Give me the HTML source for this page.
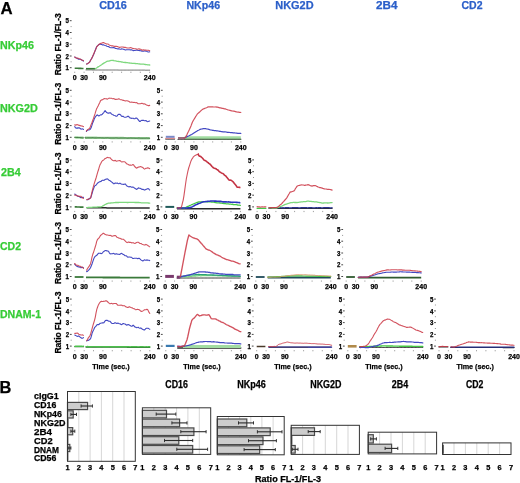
<!DOCTYPE html>
<html><head><meta charset="utf-8"><style>
html,body{margin:0;padding:0;background:#fff;}
body{width:520px;height:483px;overflow:hidden;}
svg{display:block;font-family:"Liberation Sans", sans-serif;will-change:transform;}
</style></head><body>
<svg width="520" height="483" viewBox="0 0 520 483">
<rect width="520" height="483" fill="#fff"/>
<text x="0.5" y="13.7" font-size="16.80" font-weight="bold" fill="#000" text-anchor="start" stroke="#000" stroke-width="0.25">A</text>
<text x="99.2" y="9.0" font-size="10.50" font-weight="bold" fill="#2b5fc9" text-anchor="start" textLength="27.7" lengthAdjust="spacingAndGlyphs" stroke="#2b5fc9" stroke-width="0.25">CD16</text>
<text x="186.4" y="9.0" font-size="10.50" font-weight="bold" fill="#2b5fc9" text-anchor="start" textLength="33.7" lengthAdjust="spacingAndGlyphs" stroke="#2b5fc9" stroke-width="0.25">NKp46</text>
<text x="275.3" y="9.0" font-size="10.50" font-weight="bold" fill="#2b5fc9" text-anchor="start" textLength="38.3" lengthAdjust="spacingAndGlyphs" stroke="#2b5fc9" stroke-width="0.25">NKG2D</text>
<text x="376.0" y="9.0" font-size="10.50" font-weight="bold" fill="#2b5fc9" text-anchor="start" textLength="21.5" lengthAdjust="spacingAndGlyphs" stroke="#2b5fc9" stroke-width="0.25">2B4</text>
<text x="461.5" y="9.0" font-size="10.50" font-weight="bold" fill="#2b5fc9" text-anchor="start" textLength="21.0" lengthAdjust="spacingAndGlyphs" stroke="#2b5fc9" stroke-width="0.25">CD2</text>
<text x="0.0" y="49.2" font-size="10.20" font-weight="bold" fill="#36cc36" text-anchor="start" textLength="33.9" lengthAdjust="spacingAndGlyphs" stroke="#36cc36" stroke-width="0.25">NKp46</text>
<text x="0.0" y="112.0" font-size="10.20" font-weight="bold" fill="#36cc36" text-anchor="start" textLength="37.8" lengthAdjust="spacingAndGlyphs" stroke="#36cc36" stroke-width="0.25">NKG2D</text>
<text x="1.0" y="176.2" font-size="10.20" font-weight="bold" fill="#36cc36" text-anchor="start" textLength="19.7" lengthAdjust="spacingAndGlyphs" stroke="#36cc36" stroke-width="0.25">2B4</text>
<text x="0.0" y="250.0" font-size="10.20" font-weight="bold" fill="#36cc36" text-anchor="start" textLength="21.0" lengthAdjust="spacingAndGlyphs" stroke="#36cc36" stroke-width="0.25">CD2</text>
<text x="0.0" y="318.0" font-size="10.20" font-weight="bold" fill="#36cc36" text-anchor="start" textLength="41.0" lengthAdjust="spacingAndGlyphs" stroke="#36cc36" stroke-width="0.25">DNAM-1</text>
<text x="69.0" y="70.3" font-size="6.60" font-weight="bold" fill="#000" text-anchor="end" textLength="3.4" lengthAdjust="spacingAndGlyphs" stroke="#000" stroke-width="0.25">1</text>
<line x1="69.8" y1="67.7" x2="71.6" y2="67.7" stroke="#333" stroke-width="0.9"/>
<line x1="70.6" y1="61.8" x2="71.6" y2="61.8" stroke="#777" stroke-width="0.8"/>
<text x="69.0" y="58.6" font-size="6.60" font-weight="bold" fill="#000" text-anchor="end" textLength="3.4" lengthAdjust="spacingAndGlyphs" stroke="#000" stroke-width="0.25">2</text>
<line x1="69.8" y1="56.0" x2="71.6" y2="56.0" stroke="#333" stroke-width="0.9"/>
<line x1="70.6" y1="50.1" x2="71.6" y2="50.1" stroke="#777" stroke-width="0.8"/>
<text x="69.0" y="46.8" font-size="6.60" font-weight="bold" fill="#000" text-anchor="end" textLength="3.4" lengthAdjust="spacingAndGlyphs" stroke="#000" stroke-width="0.25">3</text>
<line x1="69.8" y1="44.2" x2="71.6" y2="44.2" stroke="#333" stroke-width="0.9"/>
<line x1="70.6" y1="38.3" x2="71.6" y2="38.3" stroke="#777" stroke-width="0.8"/>
<text x="69.0" y="35.1" font-size="6.60" font-weight="bold" fill="#000" text-anchor="end" textLength="3.4" lengthAdjust="spacingAndGlyphs" stroke="#000" stroke-width="0.25">4</text>
<line x1="69.8" y1="32.5" x2="71.6" y2="32.5" stroke="#333" stroke-width="0.9"/>
<line x1="70.6" y1="26.6" x2="71.6" y2="26.6" stroke="#777" stroke-width="0.8"/>
<text x="69.0" y="23.3" font-size="6.60" font-weight="bold" fill="#000" text-anchor="end" textLength="3.4" lengthAdjust="spacingAndGlyphs" stroke="#000" stroke-width="0.25">5</text>
<line x1="69.8" y1="20.7" x2="71.6" y2="20.7" stroke="#333" stroke-width="0.9"/>
<line x1="74.7" y1="71.7" x2="74.7" y2="72.9" stroke="#888" stroke-width="0.8"/>
<line x1="84.1" y1="71.7" x2="84.1" y2="72.9" stroke="#888" stroke-width="0.8"/>
<line x1="93.5" y1="71.7" x2="93.5" y2="72.9" stroke="#888" stroke-width="0.8"/>
<line x1="102.8" y1="71.7" x2="102.8" y2="72.9" stroke="#888" stroke-width="0.8"/>
<line x1="112.2" y1="71.7" x2="112.2" y2="72.9" stroke="#888" stroke-width="0.8"/>
<line x1="121.6" y1="71.7" x2="121.6" y2="72.9" stroke="#888" stroke-width="0.8"/>
<line x1="130.9" y1="71.7" x2="130.9" y2="72.9" stroke="#888" stroke-width="0.8"/>
<line x1="140.3" y1="71.7" x2="140.3" y2="72.9" stroke="#888" stroke-width="0.8"/>
<line x1="149.7" y1="71.7" x2="149.7" y2="72.9" stroke="#888" stroke-width="0.8"/>
<text x="74.7" y="80.1" font-size="7.00" font-weight="bold" fill="#000" text-anchor="middle" stroke="#000" stroke-width="0.25">0</text>
<text x="84.1" y="80.1" font-size="7.00" font-weight="bold" fill="#000" text-anchor="middle" stroke="#000" stroke-width="0.25">30</text>
<text x="102.8" y="80.1" font-size="7.00" font-weight="bold" fill="#000" text-anchor="middle" stroke="#000" stroke-width="0.25">90</text>
<text x="149.7" y="80.1" font-size="7.00" font-weight="bold" fill="#000" text-anchor="middle" stroke="#000" stroke-width="0.25">240</text>
<text transform="translate(60.7,44.2) rotate(-90)" x="0" y="0" font-size="8.6" font-weight="bold" stroke="#000" stroke-width="0.25" text-anchor="middle" textLength="62" lengthAdjust="spacingAndGlyphs">Ratio FL-1/FL-3</text>
<path d="M86.0,69.9L86.7,69.9L87.5,69.9L88.3,69.9L89.1,69.9L89.9,69.9L90.6,69.9L91.4,69.9L92.2,70.0L93.0,70.0L93.8,70.0L94.5,70.0L95.3,70.0L96.1,70.0L96.9,70.0L97.7,70.0L98.5,70.0L99.2,70.0L100.0,70.0L100.8,70.0L101.6,70.0L102.4,70.0L103.1,70.0L103.9,70.0L104.7,70.0L105.5,70.0L106.3,70.0L107.0,70.0L107.8,70.0L108.6,70.0L109.4,70.0L110.2,70.0L111.0,70.0L111.7,70.0L112.5,70.0L113.3,70.0L114.1,70.0L114.9,70.0L115.6,70.0L116.4,70.0L117.2,70.0L118.0,70.0L118.8,70.1L119.5,70.1L120.3,70.1L121.1,70.1L121.9,70.1L122.7,70.1L123.5,70.1L124.2,70.1L125.0,70.1L125.8,70.1L126.6,70.1L127.4,70.1L128.1,70.1L128.9,70.1L129.7,70.1L130.5,70.1L131.3,70.1L132.0,70.1L132.8,70.1L133.6,70.1L134.4,70.1L135.2,70.1L135.9,70.1L136.7,70.1L137.5,70.1L138.3,70.1L139.1,70.1L139.9,70.1L140.6,70.1L141.4,70.1L142.2,70.1L143.0,70.1L143.8,70.1L144.5,70.1L145.3,70.2L146.1,70.2L146.9,70.2L147.7,70.2L148.4,70.2L149.2,70.2L149.7,70.2" fill="none" stroke="#666666" stroke-width="1.00" stroke-linejoin="round" stroke-linecap="round"/>
<path d="M74.7,68.3L75.5,68.3L76.3,68.3L77.0,68.3L77.8,68.3L78.6,68.4L79.4,68.4L80.2,68.4L81.0,68.4L81.7,68.5L82.5,68.5L83.3,68.5L83.5,68.5" fill="none" stroke="#3a7a3a" stroke-width="1.60" stroke-linejoin="round" stroke-linecap="butt"/>
<path d="M86.0,68.7L86.7,68.7L87.5,68.7L88.3,68.7L89.1,68.7L89.9,68.7L90.6,68.7L91.4,68.7L92.2,68.7L93.0,68.7L93.8,68.7L94.5,68.7L95.1,68.7" fill="none" stroke="#3a7a3a" stroke-width="1.60" stroke-linejoin="round" stroke-linecap="butt"/>
<path d="M95.3,68.7L96.1,68.2L96.9,67.7L97.7,67.1L98.5,66.6L99.2,66.2L100.0,65.7L100.8,65.2L101.6,64.7L102.4,64.1L103.1,63.6L103.9,63.1L104.7,62.7L105.5,62.2L106.3,61.7L107.0,61.4L107.8,61.2L108.6,61.1L109.4,61.0L110.2,60.7L111.0,60.5L111.7,60.3L112.5,60.3L113.3,60.5L114.1,60.7L114.9,60.8L115.6,60.9L116.4,61.1L117.2,61.3L118.0,61.4L118.8,61.5L119.5,61.6L120.3,61.7L121.1,61.8L121.9,62.0L122.7,62.2L123.5,62.3L124.2,62.4L125.0,62.5L125.8,62.5L126.6,62.6L127.4,62.7L128.1,62.8L128.9,62.8L129.7,63.0L130.5,63.1L131.3,63.2L132.0,63.4L132.8,63.4L133.6,63.4L134.4,63.4L135.2,63.5L135.9,63.6L136.7,63.6L137.5,63.7L138.3,63.8L139.1,63.9L139.9,64.0L140.6,64.1L141.4,64.1L142.2,64.2L143.0,64.2L143.8,64.2L144.5,64.4L145.3,64.5L146.1,64.6L146.9,64.7L147.7,64.8L148.4,64.9L149.2,64.9L149.7,65.0" fill="none" stroke="#7ed87e" stroke-width="1.30" stroke-linejoin="round" stroke-linecap="round"/>
<path d="M74.7,57.1L75.5,57.5L76.3,58.0L77.0,58.3L77.8,58.7L78.6,59.2L79.4,59.3L80.2,59.2L81.0,59.5L81.7,59.9L82.5,60.3L83.3,61.0L83.5,61.1" fill="none" stroke="#4349c2" stroke-width="1.10" stroke-linejoin="round" stroke-linecap="round"/>
<path d="M86.6,64.1L87.4,63.7L88.1,63.1L88.9,62.6L89.7,62.0L90.5,60.3L91.3,59.0L92.0,57.9L92.8,56.3L93.6,54.5L94.4,52.6L95.2,50.5L96.0,48.3L96.7,46.6L97.5,45.9L98.3,45.0L99.1,44.5L99.9,44.4L100.6,44.1L101.4,44.4L102.2,44.9L103.0,44.9L103.8,44.9L104.5,45.2L105.3,45.5L106.1,45.7L106.9,46.2L107.7,46.5L108.5,46.6L109.2,47.0L110.0,47.5L110.8,47.7L111.6,47.7L112.4,47.8L113.1,47.6L113.9,47.6L114.7,48.0L115.5,48.4L116.3,48.5L117.0,48.7L117.8,48.9L118.6,48.8L119.4,49.0L120.2,49.2L121.0,49.1L121.7,48.9L122.5,49.0L123.3,49.2L124.1,49.4L124.9,49.9L125.6,50.0L126.4,49.7L127.2,49.7L128.0,49.8L128.8,49.7L129.5,49.8L130.3,49.9L131.1,49.8L131.9,49.9L132.7,50.4L133.4,50.6L134.2,50.5L135.0,50.5L135.8,50.3L136.6,50.1L137.4,50.2L138.1,50.5L138.9,50.5L139.7,50.6L140.5,50.8L141.3,50.9L142.0,51.1L142.8,51.3L143.6,51.2L144.4,50.9L145.2,51.0L145.9,51.2L146.7,51.3L147.5,51.7L148.3,52.0L149.1,51.9L149.7,51.8" fill="none" stroke="#4349c2" stroke-width="1.10" stroke-linejoin="round" stroke-linecap="round"/>
<path d="M74.7,57.0L75.5,57.5L76.3,58.0L77.0,58.2L77.8,58.1L78.6,58.4L79.4,58.8L80.2,59.1L81.0,59.5L81.7,60.0L82.5,60.2L83.3,60.6L83.5,60.7" fill="none" stroke="#cc3a48" stroke-width="1.10" stroke-linejoin="round" stroke-linecap="round" stroke-opacity="0.88"/>
<path d="M86.6,64.1L87.4,63.7L88.1,63.4L88.9,62.8L89.7,61.9L90.5,60.5L91.3,59.3L92.0,57.8L92.8,56.0L93.6,54.2L94.4,52.2L95.2,50.4L96.0,48.8L96.7,46.9L97.5,45.9L98.3,45.1L99.1,44.3L99.9,43.7L100.6,43.4L101.4,43.3L102.2,42.9L103.0,42.6L103.8,42.6L104.5,43.1L105.3,43.4L106.1,43.9L106.9,44.0L107.7,44.0L108.5,44.3L109.2,44.9L110.0,45.3L110.8,45.6L111.6,45.9L112.4,45.8L113.1,45.9L113.9,46.2L114.7,46.4L115.5,46.3L116.3,46.4L117.0,46.5L117.8,46.6L118.6,47.1L119.4,47.4L120.2,47.2L121.0,47.0L121.7,47.0L122.5,47.0L123.3,47.1L124.1,47.4L124.9,47.4L125.6,47.4L126.4,47.7L127.2,48.0L128.0,48.0L128.8,48.0L129.5,48.0L130.3,47.6L131.1,47.7L131.9,48.1L132.7,48.4L133.4,48.5L134.2,48.8L135.0,48.8L135.8,48.8L136.6,49.1L137.4,49.2L138.1,49.0L138.9,48.9L139.7,49.1L140.5,49.3L141.3,49.6L142.0,50.1L142.8,50.1L143.6,49.9L144.4,50.0L145.2,50.1L145.9,50.1L146.7,50.2L147.5,50.3L148.3,50.2L149.1,50.5L149.7,50.8" fill="none" stroke="#cc3a48" stroke-width="1.10" stroke-linejoin="round" stroke-linecap="round" stroke-opacity="0.88"/>
<text x="69.0" y="139.9" font-size="6.60" font-weight="bold" fill="#000" text-anchor="end" textLength="3.4" lengthAdjust="spacingAndGlyphs" stroke="#000" stroke-width="0.25">1</text>
<line x1="69.8" y1="137.3" x2="71.6" y2="137.3" stroke="#333" stroke-width="0.9"/>
<line x1="70.6" y1="131.4" x2="71.6" y2="131.4" stroke="#777" stroke-width="0.8"/>
<text x="69.0" y="128.2" font-size="6.60" font-weight="bold" fill="#000" text-anchor="end" textLength="3.4" lengthAdjust="spacingAndGlyphs" stroke="#000" stroke-width="0.25">2</text>
<line x1="69.8" y1="125.6" x2="71.6" y2="125.6" stroke="#333" stroke-width="0.9"/>
<line x1="70.6" y1="119.7" x2="71.6" y2="119.7" stroke="#777" stroke-width="0.8"/>
<text x="69.0" y="116.4" font-size="6.60" font-weight="bold" fill="#000" text-anchor="end" textLength="3.4" lengthAdjust="spacingAndGlyphs" stroke="#000" stroke-width="0.25">3</text>
<line x1="69.8" y1="113.8" x2="71.6" y2="113.8" stroke="#333" stroke-width="0.9"/>
<line x1="70.6" y1="107.9" x2="71.6" y2="107.9" stroke="#777" stroke-width="0.8"/>
<text x="69.0" y="104.7" font-size="6.60" font-weight="bold" fill="#000" text-anchor="end" textLength="3.4" lengthAdjust="spacingAndGlyphs" stroke="#000" stroke-width="0.25">4</text>
<line x1="69.8" y1="102.1" x2="71.6" y2="102.1" stroke="#333" stroke-width="0.9"/>
<line x1="70.6" y1="96.2" x2="71.6" y2="96.2" stroke="#777" stroke-width="0.8"/>
<text x="69.0" y="92.9" font-size="6.60" font-weight="bold" fill="#000" text-anchor="end" textLength="3.4" lengthAdjust="spacingAndGlyphs" stroke="#000" stroke-width="0.25">5</text>
<line x1="69.8" y1="90.3" x2="71.6" y2="90.3" stroke="#333" stroke-width="0.9"/>
<line x1="74.7" y1="141.3" x2="74.7" y2="142.5" stroke="#888" stroke-width="0.8"/>
<line x1="84.1" y1="141.3" x2="84.1" y2="142.5" stroke="#888" stroke-width="0.8"/>
<line x1="93.5" y1="141.3" x2="93.5" y2="142.5" stroke="#888" stroke-width="0.8"/>
<line x1="102.8" y1="141.3" x2="102.8" y2="142.5" stroke="#888" stroke-width="0.8"/>
<line x1="112.2" y1="141.3" x2="112.2" y2="142.5" stroke="#888" stroke-width="0.8"/>
<line x1="121.6" y1="141.3" x2="121.6" y2="142.5" stroke="#888" stroke-width="0.8"/>
<line x1="130.9" y1="141.3" x2="130.9" y2="142.5" stroke="#888" stroke-width="0.8"/>
<line x1="140.3" y1="141.3" x2="140.3" y2="142.5" stroke="#888" stroke-width="0.8"/>
<line x1="149.7" y1="141.3" x2="149.7" y2="142.5" stroke="#888" stroke-width="0.8"/>
<text x="74.7" y="149.7" font-size="7.00" font-weight="bold" fill="#000" text-anchor="middle" stroke="#000" stroke-width="0.25">0</text>
<text x="84.1" y="149.7" font-size="7.00" font-weight="bold" fill="#000" text-anchor="middle" stroke="#000" stroke-width="0.25">30</text>
<text x="102.8" y="149.7" font-size="7.00" font-weight="bold" fill="#000" text-anchor="middle" stroke="#000" stroke-width="0.25">90</text>
<text x="149.7" y="149.7" font-size="7.00" font-weight="bold" fill="#000" text-anchor="middle" stroke="#000" stroke-width="0.25">240</text>
<text transform="translate(60.7,113.8) rotate(-90)" x="0" y="0" font-size="8.6" font-weight="bold" stroke="#000" stroke-width="0.25" text-anchor="middle" textLength="62" lengthAdjust="spacingAndGlyphs">Ratio FL-1/FL-3</text>
<path d="M74.7,137.4L75.5,137.4L76.3,137.5L77.0,137.5L77.8,137.5L78.6,137.6L79.4,137.6L80.2,137.6L81.0,137.7L81.7,137.7L82.5,137.7L83.3,137.8L83.5,137.8" fill="none" stroke="#9ad89a" stroke-width="2.40" stroke-linejoin="round" stroke-linecap="butt"/>
<path d="M85.0,137.8L85.8,137.8L86.6,137.8L87.4,137.8L88.1,137.8L88.9,137.8L89.7,137.8L90.5,137.8L91.3,137.8L92.0,137.8L92.8,137.8L93.6,137.8L94.4,137.8L95.2,137.8L96.0,137.8L96.7,137.8L97.5,137.9L98.3,137.9L99.1,137.9L99.9,137.9L100.6,137.9L101.4,137.9L102.2,137.9L103.0,137.9L103.8,137.9L104.5,137.9L105.3,137.9L106.1,137.9L106.9,137.9L107.7,137.9L108.5,137.9L109.2,137.9L110.0,137.9L110.8,138.0L111.6,138.0L112.4,138.0L113.1,138.0L113.9,138.0L114.7,138.0L115.5,138.0L116.3,138.0L117.0,138.0L117.8,138.0L118.6,138.0L119.4,138.0L120.2,138.0L121.0,138.0L121.7,138.0L122.5,138.0L123.3,138.0L124.1,138.1L124.9,138.1L125.6,138.1L126.4,138.1L127.2,138.1L128.0,138.1L128.8,138.1L129.5,138.1L130.3,138.1L131.1,138.1L131.9,138.1L132.7,138.1L133.4,138.1L134.2,138.1L135.0,138.1L135.8,138.1L136.6,138.1L137.4,138.1L138.1,138.2L138.9,138.2L139.7,138.2L140.5,138.2L141.3,138.2L142.0,138.2L142.8,138.2L143.6,138.2L144.4,138.2L145.2,138.2L145.9,138.2L146.7,138.2L147.5,138.2L148.3,138.2L149.1,138.2L149.7,138.2" fill="none" stroke="#9ad89a" stroke-width="2.40" stroke-linejoin="round" stroke-linecap="butt"/>
<path d="M74.7,137.4L75.5,137.5L76.3,137.5L77.0,137.5L77.8,137.5L78.6,137.5L79.4,137.5L80.2,137.6L81.0,137.7L81.7,137.7L82.5,137.8L83.3,137.8L83.5,137.8" fill="none" stroke="#3a6a3a" stroke-width="1.00" stroke-linejoin="round" stroke-linecap="round"/>
<path d="M85.0,137.7L85.8,137.8L86.6,137.9L87.4,137.8L88.1,137.8L88.9,137.8L89.7,137.8L90.5,137.8L91.3,137.8L92.0,137.8L92.8,137.7L93.6,137.8L94.4,137.9L95.2,137.9L96.0,137.9L96.7,137.9L97.5,137.8L98.3,137.8L99.1,137.8L99.9,137.8L100.6,137.8L101.4,137.9L102.2,137.9L103.0,137.9L103.8,138.0L104.5,138.0L105.3,137.9L106.1,137.9L106.9,137.9L107.7,137.8L108.5,137.9L109.2,138.0L110.0,138.0L110.8,138.0L111.6,138.0L112.4,138.0L113.1,138.0L113.9,138.0L114.7,138.0L115.5,137.9L116.3,137.9L117.0,138.0L117.8,138.0L118.6,138.1L119.4,138.1L120.2,138.0L121.0,138.0L121.7,138.0L122.5,138.0L123.3,138.0L124.1,138.0L124.9,138.0L125.6,138.0L126.4,138.1L127.2,138.2L128.0,138.1L128.8,138.1L129.5,138.1L130.3,138.0L131.1,138.0L131.9,138.1L132.7,138.1L133.4,138.1L134.2,138.1L135.0,138.2L135.8,138.2L136.6,138.2L137.4,138.2L138.1,138.1L138.9,138.0L139.7,138.1L140.5,138.2L141.3,138.2L142.0,138.2L142.8,138.2L143.6,138.2L144.4,138.2L145.2,138.2L145.9,138.2L146.7,138.1L147.5,138.2L148.3,138.2L149.1,138.2L149.7,138.3" fill="none" stroke="#3a6a3a" stroke-width="1.00" stroke-linejoin="round" stroke-linecap="round"/>
<path d="M74.7,126.6L75.5,127.8L76.3,128.3L77.0,127.9L77.8,128.1L78.6,127.9L79.4,127.8L80.2,128.5L81.0,129.2L81.7,129.0L82.5,128.9L83.3,129.4L83.5,129.4" fill="none" stroke="#4349c2" stroke-width="1.10" stroke-linejoin="round" stroke-linecap="round"/>
<path d="M86.4,131.5L87.2,130.2L88.0,129.9L88.7,130.0L89.5,129.7L90.3,129.3L91.1,127.8L91.9,125.4L92.6,123.1L93.4,121.5L94.2,119.1L95.0,117.4L95.8,116.4L96.5,115.5L97.3,114.8L98.1,115.5L98.9,116.0L99.7,115.4L100.5,114.9L101.2,114.9L102.0,114.6L102.8,113.5L103.6,112.8L104.4,111.6L105.1,110.6L105.9,111.6L106.7,112.6L107.5,112.9L108.3,113.1L109.0,113.1L109.8,112.7L110.6,112.9L111.4,113.9L112.2,114.5L113.0,114.7L113.7,115.2L114.5,115.5L115.3,115.7L116.1,116.3L116.9,116.3L117.6,115.2L118.4,114.4L119.2,114.4L120.0,114.3L120.8,115.1L121.5,116.2L122.3,116.4L123.1,116.3L123.9,116.9L124.7,117.3L125.5,117.2L126.2,117.1L127.0,116.8L127.8,116.2L128.6,116.4L129.4,117.4L130.1,118.0L130.9,118.1L131.7,118.4L132.5,118.3L133.3,118.2L134.0,118.8L134.8,118.7L135.6,118.1L136.4,118.0L137.2,118.5L137.9,119.4L138.7,120.4L139.5,121.4L140.3,121.4L141.1,120.5L141.9,120.4L142.6,120.4L143.4,120.3L144.2,120.6L145.0,120.7L145.8,120.5L146.5,121.0L147.3,121.7L148.1,121.5L148.9,121.2L149.7,121.0L149.7,121.0" fill="none" stroke="#4349c2" stroke-width="1.10" stroke-linejoin="round" stroke-linecap="round"/>
<path d="M74.7,124.9L75.5,125.1L76.3,124.9L77.0,124.6L77.8,124.7L78.6,125.2L79.4,125.4L80.2,125.6L81.0,125.9L81.7,126.0L82.5,126.1L83.3,126.6L83.5,126.6" fill="none" stroke="#cc3a48" stroke-width="1.10" stroke-linejoin="round" stroke-linecap="round" stroke-opacity="0.88"/>
<path d="M86.4,131.0L87.2,130.2L88.0,129.4L88.7,128.9L89.5,128.6L90.3,126.8L91.1,124.6L91.9,122.8L92.6,120.8L93.4,118.6L94.2,116.3L95.0,113.9L95.8,111.2L96.5,109.1L97.3,107.6L98.1,106.0L98.9,104.3L99.7,102.7L100.5,100.7L101.2,100.1L102.0,99.9L102.8,99.6L103.6,98.9L104.4,98.6L105.1,98.7L105.9,98.7L106.7,98.9L107.5,99.1L108.3,98.6L109.0,98.1L109.8,98.2L110.6,98.2L111.4,98.3L112.2,98.6L113.0,98.7L113.7,98.6L114.5,99.0L115.3,99.4L116.1,99.4L116.9,99.3L117.6,99.3L118.4,98.9L119.2,98.9L120.0,99.4L120.8,99.7L121.5,99.8L122.3,100.1L123.1,100.4L123.9,100.4L124.7,100.7L125.5,101.0L126.2,100.7L127.0,100.7L127.8,101.0L128.6,101.3L129.4,101.7L130.1,102.2L130.9,102.3L131.7,102.1L132.5,102.2L133.3,102.5L134.0,102.4L134.8,102.5L135.6,102.7L136.4,102.6L137.2,102.9L137.9,103.6L138.7,103.8L139.5,103.7L140.3,103.7L141.1,103.5L141.9,103.3L142.6,103.6L143.4,103.9L144.2,103.9L145.0,104.0L145.8,104.6L146.5,104.9L147.3,105.2L148.1,105.6L148.9,105.6L149.7,105.4L149.7,105.4" fill="none" stroke="#cc3a48" stroke-width="1.10" stroke-linejoin="round" stroke-linecap="round" stroke-opacity="0.88"/>
<text x="160.1" y="139.9" font-size="6.60" font-weight="bold" fill="#000" text-anchor="end" textLength="3.4" lengthAdjust="spacingAndGlyphs" stroke="#000" stroke-width="0.25">1</text>
<line x1="160.9" y1="137.3" x2="162.7" y2="137.3" stroke="#333" stroke-width="0.9"/>
<line x1="161.7" y1="131.4" x2="162.7" y2="131.4" stroke="#777" stroke-width="0.8"/>
<text x="160.1" y="128.2" font-size="6.60" font-weight="bold" fill="#000" text-anchor="end" textLength="3.4" lengthAdjust="spacingAndGlyphs" stroke="#000" stroke-width="0.25">2</text>
<line x1="160.9" y1="125.6" x2="162.7" y2="125.6" stroke="#333" stroke-width="0.9"/>
<line x1="161.7" y1="119.7" x2="162.7" y2="119.7" stroke="#777" stroke-width="0.8"/>
<text x="160.1" y="116.4" font-size="6.60" font-weight="bold" fill="#000" text-anchor="end" textLength="3.4" lengthAdjust="spacingAndGlyphs" stroke="#000" stroke-width="0.25">3</text>
<line x1="160.9" y1="113.8" x2="162.7" y2="113.8" stroke="#333" stroke-width="0.9"/>
<line x1="161.7" y1="107.9" x2="162.7" y2="107.9" stroke="#777" stroke-width="0.8"/>
<text x="160.1" y="104.7" font-size="6.60" font-weight="bold" fill="#000" text-anchor="end" textLength="3.4" lengthAdjust="spacingAndGlyphs" stroke="#000" stroke-width="0.25">4</text>
<line x1="160.9" y1="102.1" x2="162.7" y2="102.1" stroke="#333" stroke-width="0.9"/>
<line x1="161.7" y1="96.2" x2="162.7" y2="96.2" stroke="#777" stroke-width="0.8"/>
<text x="160.1" y="92.9" font-size="6.60" font-weight="bold" fill="#000" text-anchor="end" textLength="3.4" lengthAdjust="spacingAndGlyphs" stroke="#000" stroke-width="0.25">5</text>
<line x1="160.9" y1="90.3" x2="162.7" y2="90.3" stroke="#333" stroke-width="0.9"/>
<line x1="165.8" y1="141.3" x2="165.8" y2="142.5" stroke="#888" stroke-width="0.8"/>
<line x1="175.2" y1="141.3" x2="175.2" y2="142.5" stroke="#888" stroke-width="0.8"/>
<line x1="184.6" y1="141.3" x2="184.6" y2="142.5" stroke="#888" stroke-width="0.8"/>
<line x1="193.9" y1="141.3" x2="193.9" y2="142.5" stroke="#888" stroke-width="0.8"/>
<line x1="203.3" y1="141.3" x2="203.3" y2="142.5" stroke="#888" stroke-width="0.8"/>
<line x1="212.7" y1="141.3" x2="212.7" y2="142.5" stroke="#888" stroke-width="0.8"/>
<line x1="222.1" y1="141.3" x2="222.1" y2="142.5" stroke="#888" stroke-width="0.8"/>
<line x1="231.4" y1="141.3" x2="231.4" y2="142.5" stroke="#888" stroke-width="0.8"/>
<line x1="240.8" y1="141.3" x2="240.8" y2="142.5" stroke="#888" stroke-width="0.8"/>
<text x="165.8" y="149.7" font-size="7.00" font-weight="bold" fill="#000" text-anchor="middle" stroke="#000" stroke-width="0.25">0</text>
<text x="175.2" y="149.7" font-size="7.00" font-weight="bold" fill="#000" text-anchor="middle" stroke="#000" stroke-width="0.25">30</text>
<text x="193.9" y="149.7" font-size="7.00" font-weight="bold" fill="#000" text-anchor="middle" stroke="#000" stroke-width="0.25">90</text>
<text x="240.8" y="149.7" font-size="7.00" font-weight="bold" fill="#000" text-anchor="middle" stroke="#000" stroke-width="0.25">240</text>
<path d="M165.8,139.2L166.6,139.2L167.4,139.2L168.1,139.2L168.9,139.2L169.7,139.2L170.5,139.2L171.3,139.2L172.1,139.2L172.8,139.2L173.6,139.2L174.4,139.2L174.6,139.2" fill="none" stroke="#2a2a2a" stroke-width="1.00" stroke-linejoin="round" stroke-linecap="round"/>
<path d="M178.0,139.4L178.8,139.4L179.6,139.4L180.3,139.4L181.1,139.4L181.9,139.4L182.7,139.4L183.5,139.4L184.2,139.4L185.0,139.4L185.8,139.4L186.6,139.4L187.4,139.4L188.1,139.4L188.9,139.4L189.7,139.4L190.5,139.4L191.3,139.4L192.1,139.4L192.8,139.4L193.6,139.4L194.4,139.4L195.2,139.4L196.0,139.4L196.7,139.4L197.5,139.4L198.3,139.4L199.1,139.4L199.9,139.4L200.6,139.4L201.4,139.4L202.2,139.4L203.0,139.4L203.8,139.4L204.6,139.4L205.3,139.4L206.1,139.4L206.9,139.4L207.7,139.4L208.5,139.4L209.2,139.4L210.0,139.4L210.8,139.4L211.6,139.4L212.4,139.4L213.1,139.4L213.9,139.4L214.7,139.4L215.5,139.4L216.3,139.4L217.1,139.4L217.8,139.4L218.6,139.4L219.4,139.4L220.2,139.4L221.0,139.4L221.7,139.4L222.5,139.4L223.3,139.4L224.1,139.4L224.9,139.4L225.6,139.4L226.4,139.4L227.2,139.4L228.0,139.4L228.8,139.4L229.6,139.4L230.3,139.4L231.1,139.4L231.9,139.4L232.7,139.4L233.5,139.4L234.2,139.4L235.0,139.4L235.8,139.4L236.6,139.4L237.4,139.4L238.1,139.4L238.9,139.4L239.7,139.4L240.5,139.4L240.8,139.4" fill="none" stroke="#2a2a2a" stroke-width="1.00" stroke-linejoin="round" stroke-linecap="round"/>
<path d="M165.8,138.4L166.6,138.4L167.4,138.4L168.1,138.4L168.9,138.4L169.7,138.4L170.5,138.4L171.3,138.4L172.1,138.4L172.8,138.4L173.6,138.4L174.4,138.4L174.6,138.4" fill="none" stroke="#d88a8a" stroke-width="1.30" stroke-linejoin="round" stroke-linecap="round"/>
<path d="M165.8,136.8L166.6,136.8L167.4,136.8L168.1,136.8L168.9,136.8L169.7,136.8L170.5,136.8L171.3,136.8L172.1,136.8L172.8,136.8L173.6,136.8L174.4,136.8L174.6,136.8" fill="none" stroke="#7a88c8" stroke-width="2.00" stroke-linejoin="round" stroke-linecap="butt"/>
<path d="M178.0,138.0L178.8,138.0L179.6,138.1L180.3,138.1L181.1,138.1L181.9,138.1L182.7,138.2L183.5,138.2L184.2,138.2L184.7,138.2" fill="none" stroke="#9a6a7a" stroke-width="2.20" stroke-linejoin="round" stroke-linecap="butt"/>
<path d="M184.6,137.8L185.3,137.8L186.1,137.8L186.9,137.8L187.7,137.8L188.5,137.8L189.2,137.8L190.0,137.8L190.8,137.8L191.6,137.8L192.4,137.8L193.1,137.8L193.9,137.8L194.7,137.8L195.5,137.8L196.3,137.8L197.1,137.8L197.8,137.8L198.6,137.8L199.4,137.8L200.2,137.8L201.0,137.8L201.7,137.8L202.5,137.8L203.3,137.8L204.1,137.8L204.9,137.8L205.6,137.8L206.4,137.8L207.2,137.8L208.0,137.8L208.8,137.8L209.6,137.8L210.3,137.8L211.1,137.8L211.9,137.8L212.7,137.8L213.5,137.8L214.2,137.8L215.0,137.8L215.8,137.8L216.6,137.8L217.4,137.8L218.1,137.8L218.9,137.8L219.7,137.8L220.5,137.8L221.3,137.8L222.1,137.8L222.8,137.8L223.6,137.8L224.4,137.8L225.2,137.8L226.0,137.8L226.7,137.8L227.5,137.8L228.3,137.8L229.1,137.8L229.9,137.8L230.6,137.8L231.4,137.8L232.2,137.8L233.0,137.8L233.8,137.8L234.6,137.8L235.3,137.8L236.1,137.8L236.9,137.8L237.7,137.8L238.5,137.8L239.2,137.8L240.0,137.8L240.8,137.8" fill="none" stroke="#a2dca2" stroke-width="3.00" stroke-linejoin="round" stroke-linecap="butt"/>
<path d="M184.6,139.2L185.3,139.2L186.1,139.2L186.9,139.2L187.7,139.2L188.5,139.2L189.2,139.2L190.0,139.2L190.8,139.2L191.6,139.2L192.4,139.2L193.1,139.2L193.9,139.2L194.7,139.2L195.5,139.2L196.3,139.2L197.1,139.2L197.8,139.2L198.6,139.2L199.4,139.2L200.2,139.2L201.0,139.2L201.7,139.2L202.5,139.2L203.3,139.2L204.1,139.2L204.9,139.2L205.6,139.2L206.4,139.2L207.2,139.2L208.0,139.2L208.8,139.2L209.6,139.2L210.3,139.2L211.1,139.2L211.9,139.2L212.7,139.2L213.5,139.2L214.2,139.2L215.0,139.2L215.8,139.2L216.6,139.2L217.4,139.2L218.1,139.2L218.9,139.2L219.7,139.2L220.5,139.2L221.3,139.2L222.1,139.2L222.8,139.2L223.6,139.2L224.4,139.2L225.2,139.2L226.0,139.2L226.7,139.2L227.5,139.2L228.3,139.2L229.1,139.2L229.9,139.2L230.6,139.2L231.4,139.2L232.2,139.2L233.0,139.2L233.8,139.2L234.6,139.2L235.3,139.2L236.1,139.2L236.9,139.2L237.7,139.2L238.5,139.2L239.2,139.2L240.0,139.2L240.8,139.2" fill="none" stroke="#4a6a4a" stroke-width="1.00" stroke-linejoin="round" stroke-linecap="round"/>
<path d="M184.6,137.9L185.3,137.5L186.1,137.2L186.9,136.8L187.7,136.4L188.5,136.0L189.2,135.7L190.0,135.3L190.8,134.9L191.6,134.5L192.4,134.0L193.1,133.5L193.9,133.0L194.7,132.5L195.5,132.0L196.3,131.5L197.1,131.0L197.8,130.5L198.6,130.2L199.4,129.8L200.2,129.3L201.0,129.1L201.7,129.0L202.5,128.8L203.3,128.7L204.1,128.7L204.9,128.6L205.6,128.7L206.4,128.9L207.2,129.0L208.0,129.2L208.8,129.4L209.6,129.6L210.3,129.8L211.1,130.0L211.9,130.1L212.7,130.3L213.5,130.4L214.2,130.6L215.0,130.6L215.8,130.7L216.6,130.8L217.4,130.9L218.1,131.0L218.9,131.2L219.7,131.4L220.5,131.4L221.3,131.6L222.1,131.7L222.8,131.8L223.6,131.8L224.4,131.9L225.2,131.9L226.0,132.0L226.7,132.1L227.5,132.3L228.3,132.4L229.1,132.4L229.9,132.5L230.6,132.6L231.4,132.7L232.2,132.7L233.0,132.8L233.8,132.8L234.6,132.9L235.3,133.0L236.1,133.1L236.9,133.2L237.7,133.3L238.5,133.3L239.2,133.3L240.0,133.4L240.8,133.4" fill="none" stroke="#4349c2" stroke-width="1.20" stroke-linejoin="round" stroke-linecap="round"/>
<path d="M183.9,138.0L184.7,138.1L185.5,137.4L186.3,135.9L187.1,134.3L187.8,132.8L188.6,131.3L189.4,129.6L190.2,127.7L191.0,125.9L191.7,124.0L192.5,122.1L193.3,120.5L194.1,119.2L194.9,117.9L195.6,116.7L196.4,115.5L197.2,114.2L198.0,113.4L198.8,112.7L199.6,112.0L200.3,111.3L201.1,110.6L201.9,109.9L202.7,109.2L203.5,108.9L204.2,108.6L205.0,108.3L205.8,108.0L206.6,107.7L207.4,107.2L208.1,106.9L208.9,106.9L209.7,106.9L210.5,106.9L211.3,106.9L212.1,106.9L212.8,106.9L213.6,107.0L214.4,107.0L215.2,107.0L216.0,106.9L216.7,107.1L217.5,107.2L218.3,107.4L219.1,107.6L219.9,107.8L220.6,107.9L221.4,108.1L222.2,108.3L223.0,108.4L223.8,108.6L224.6,108.8L225.3,108.9L226.1,109.2L226.9,109.5L227.7,109.8L228.5,110.0L229.2,110.2L230.0,110.4L230.8,110.6L231.6,110.8L232.4,111.0L233.1,111.1L233.9,111.2L234.7,111.4L235.5,111.6L236.3,111.8L237.1,112.0L237.8,112.1L238.6,112.2L239.4,112.3L240.2,112.4L240.8,112.5" fill="none" stroke="#cc3a48" stroke-width="1.20" stroke-linejoin="round" stroke-linecap="round" stroke-opacity="0.88"/>
<text x="69.0" y="209.5" font-size="6.60" font-weight="bold" fill="#000" text-anchor="end" textLength="3.4" lengthAdjust="spacingAndGlyphs" stroke="#000" stroke-width="0.25">1</text>
<line x1="69.8" y1="206.9" x2="71.6" y2="206.9" stroke="#333" stroke-width="0.9"/>
<line x1="70.6" y1="201.0" x2="71.6" y2="201.0" stroke="#777" stroke-width="0.8"/>
<text x="69.0" y="197.8" font-size="6.60" font-weight="bold" fill="#000" text-anchor="end" textLength="3.4" lengthAdjust="spacingAndGlyphs" stroke="#000" stroke-width="0.25">2</text>
<line x1="69.8" y1="195.2" x2="71.6" y2="195.2" stroke="#333" stroke-width="0.9"/>
<line x1="70.6" y1="189.3" x2="71.6" y2="189.3" stroke="#777" stroke-width="0.8"/>
<text x="69.0" y="186.0" font-size="6.60" font-weight="bold" fill="#000" text-anchor="end" textLength="3.4" lengthAdjust="spacingAndGlyphs" stroke="#000" stroke-width="0.25">3</text>
<line x1="69.8" y1="183.4" x2="71.6" y2="183.4" stroke="#333" stroke-width="0.9"/>
<line x1="70.6" y1="177.5" x2="71.6" y2="177.5" stroke="#777" stroke-width="0.8"/>
<text x="69.0" y="174.2" font-size="6.60" font-weight="bold" fill="#000" text-anchor="end" textLength="3.4" lengthAdjust="spacingAndGlyphs" stroke="#000" stroke-width="0.25">4</text>
<line x1="69.8" y1="171.7" x2="71.6" y2="171.7" stroke="#333" stroke-width="0.9"/>
<line x1="70.6" y1="165.8" x2="71.6" y2="165.8" stroke="#777" stroke-width="0.8"/>
<text x="69.0" y="162.5" font-size="6.60" font-weight="bold" fill="#000" text-anchor="end" textLength="3.4" lengthAdjust="spacingAndGlyphs" stroke="#000" stroke-width="0.25">5</text>
<line x1="69.8" y1="159.9" x2="71.6" y2="159.9" stroke="#333" stroke-width="0.9"/>
<line x1="74.7" y1="210.9" x2="74.7" y2="212.1" stroke="#888" stroke-width="0.8"/>
<line x1="84.1" y1="210.9" x2="84.1" y2="212.1" stroke="#888" stroke-width="0.8"/>
<line x1="93.5" y1="210.9" x2="93.5" y2="212.1" stroke="#888" stroke-width="0.8"/>
<line x1="102.8" y1="210.9" x2="102.8" y2="212.1" stroke="#888" stroke-width="0.8"/>
<line x1="112.2" y1="210.9" x2="112.2" y2="212.1" stroke="#888" stroke-width="0.8"/>
<line x1="121.6" y1="210.9" x2="121.6" y2="212.1" stroke="#888" stroke-width="0.8"/>
<line x1="130.9" y1="210.9" x2="130.9" y2="212.1" stroke="#888" stroke-width="0.8"/>
<line x1="140.3" y1="210.9" x2="140.3" y2="212.1" stroke="#888" stroke-width="0.8"/>
<line x1="149.7" y1="210.9" x2="149.7" y2="212.1" stroke="#888" stroke-width="0.8"/>
<text x="74.7" y="219.3" font-size="7.00" font-weight="bold" fill="#000" text-anchor="middle" stroke="#000" stroke-width="0.25">0</text>
<text x="84.1" y="219.3" font-size="7.00" font-weight="bold" fill="#000" text-anchor="middle" stroke="#000" stroke-width="0.25">30</text>
<text x="102.8" y="219.3" font-size="7.00" font-weight="bold" fill="#000" text-anchor="middle" stroke="#000" stroke-width="0.25">90</text>
<text x="149.7" y="219.3" font-size="7.00" font-weight="bold" fill="#000" text-anchor="middle" stroke="#000" stroke-width="0.25">240</text>
<text transform="translate(60.7,183.4) rotate(-90)" x="0" y="0" font-size="8.6" font-weight="bold" stroke="#000" stroke-width="0.25" text-anchor="middle" textLength="62" lengthAdjust="spacingAndGlyphs">Ratio FL-1/FL-3</text>
<path d="M86.6,207.7L87.4,207.7L88.1,207.7L88.9,207.8L89.7,207.8L90.5,207.8L91.3,207.8L92.0,207.8L92.8,207.8L93.6,207.8L94.4,207.8L95.2,207.8L96.0,207.8L96.7,207.8L97.5,207.8L98.3,207.8L99.1,207.8L99.9,207.8L100.6,207.8L101.4,207.8L102.2,207.8L103.0,207.8L103.8,207.8L104.5,207.8L105.3,207.8L106.1,207.8L106.9,207.9L107.7,207.9L108.5,207.9L109.2,207.9L110.0,207.9L110.8,207.9L111.6,207.9L112.4,207.9L113.1,207.9L113.9,207.9L114.7,207.9L115.5,207.9L116.3,207.9L117.0,207.9L117.8,207.9L118.6,207.9L119.4,207.9L120.2,207.9L121.0,207.9L121.7,207.9L122.5,207.9L123.3,207.9L124.1,208.0L124.9,208.0L125.6,208.0L126.4,208.0L127.2,208.0L128.0,208.0L128.8,208.0L129.5,208.0L130.3,208.0L131.1,208.0L131.9,208.0L132.7,208.0L133.4,208.0L134.2,208.0L135.0,208.0L135.8,208.0L136.6,208.0L137.4,208.0L138.1,208.0L138.9,208.0L139.7,208.0L140.5,208.0L141.3,208.0L142.0,208.1L142.8,208.1L143.6,208.1L144.4,208.1L145.2,208.1L145.9,208.1L146.7,208.1L147.5,208.1L148.3,208.1L149.1,208.1L149.7,208.1" fill="none" stroke="#2a2a2a" stroke-width="1.50" stroke-linejoin="round" stroke-linecap="butt"/>
<path d="M74.7,206.9L75.5,206.9L76.3,206.9L77.0,207.0L77.8,207.0L78.6,207.0L79.4,207.0L80.2,207.1L81.0,207.1L81.7,207.1L82.5,207.1L83.3,207.1L83.5,207.1" fill="none" stroke="#3a7a3a" stroke-width="1.60" stroke-linejoin="round" stroke-linecap="butt"/>
<path d="M86.6,207.6L87.4,207.6L88.1,207.5L88.9,207.4L89.7,207.4L90.5,207.3L91.3,207.3L92.0,207.3L92.8,207.2L93.6,207.2L94.4,207.2L95.2,207.2L96.0,207.2L96.7,207.1L97.5,207.0L98.3,206.9L99.1,206.9L99.9,206.9L100.6,206.9L101.4,206.7L102.2,206.3L103.0,205.8L103.8,205.4L104.5,204.9L105.3,204.5L106.1,204.1L106.9,203.7L107.7,203.5L108.5,203.2L109.2,203.1L110.0,203.1L110.8,203.0L111.6,202.9L112.4,202.8L113.1,202.8L113.9,202.7L114.7,202.6L115.5,202.5L116.3,202.5L117.0,202.4L117.8,202.5L118.6,202.5L119.4,202.4L120.2,202.4L121.0,202.4L121.7,202.3L122.5,202.4L123.3,202.4L124.1,202.3L124.9,202.3L125.6,202.4L126.4,202.4L127.2,202.5L128.0,202.5L128.8,202.4L129.5,202.3L130.3,202.3L131.1,202.4L131.9,202.4L132.7,202.4L133.4,202.4L134.2,202.4L135.0,202.5L135.8,202.5L136.6,202.5L137.4,202.5L138.1,202.5L138.9,202.5L139.7,202.6L140.5,202.7L141.3,202.8L142.0,202.8L142.8,202.8L143.6,202.9L144.4,202.9L145.2,202.9L145.9,202.9L146.7,202.9L147.5,202.9L148.3,203.0L149.1,203.1L149.7,203.2" fill="none" stroke="#7ed87e" stroke-width="1.30" stroke-linejoin="round" stroke-linecap="round"/>
<path d="M74.7,194.0L75.5,194.7L76.3,195.1L77.0,195.6L77.8,196.3L78.6,196.5L79.4,196.5L80.2,197.3L81.0,197.8L81.7,197.4L82.5,197.3L83.3,197.4L83.5,197.3" fill="none" stroke="#4349c2" stroke-width="1.10" stroke-linejoin="round" stroke-linecap="round"/>
<path d="M86.8,199.8L87.6,199.7L88.4,199.4L89.1,198.6L89.9,198.4L90.7,197.9L91.5,195.3L92.3,192.5L93.0,190.2L93.8,188.0L94.6,186.1L95.4,185.4L96.2,185.0L97.0,183.8L97.7,182.9L98.5,182.5L99.3,181.9L100.1,181.6L100.9,181.5L101.6,180.8L102.4,180.2L103.2,180.3L104.0,180.4L104.8,179.8L105.5,179.3L106.3,179.2L107.1,178.8L107.9,179.2L108.7,180.1L109.5,180.4L110.2,180.8L111.0,181.5L111.8,182.1L112.6,182.7L113.4,183.6L114.1,183.8L114.9,183.1L115.7,183.0L116.5,183.2L117.3,183.0L118.0,183.4L118.8,183.8L119.6,183.3L120.4,183.3L121.2,184.0L122.0,184.3L122.7,184.3L123.5,184.4L124.3,184.2L125.1,183.9L125.9,184.7L126.6,185.8L127.4,186.2L128.2,186.6L129.0,186.9L129.8,186.6L130.5,186.6L131.3,187.1L132.1,187.2L132.9,186.9L133.7,187.4L134.4,188.0L135.2,188.5L136.0,189.1L136.8,189.4L137.6,188.6L138.4,187.9L139.1,188.1L139.9,188.2L140.7,188.5L141.5,189.2L142.3,189.4L143.0,189.3L143.8,189.7L144.6,190.1L145.4,189.7L146.2,189.3L146.9,189.1L147.7,188.6L148.5,188.7L149.3,189.7L149.7,190.0" fill="none" stroke="#4349c2" stroke-width="1.10" stroke-linejoin="round" stroke-linecap="round"/>
<path d="M74.7,195.1L75.5,195.1L76.3,195.3L77.0,195.9L77.8,196.0L78.6,196.1L79.4,196.4L80.2,196.2L81.0,196.3L81.7,197.2L82.5,198.0L83.3,198.3L83.5,198.4" fill="none" stroke="#cc3a48" stroke-width="1.10" stroke-linejoin="round" stroke-linecap="round" stroke-opacity="0.88"/>
<path d="M86.8,199.7L87.6,199.3L88.4,199.2L89.1,198.9L89.9,198.6L90.7,197.6L91.5,194.1L92.3,190.6L93.0,187.8L93.8,185.1L94.6,182.4L95.4,180.0L96.2,177.5L97.0,174.6L97.7,172.1L98.5,169.8L99.3,166.9L100.1,164.6L100.9,163.3L101.6,161.8L102.4,160.7L103.2,160.3L104.0,159.6L104.8,158.7L105.5,158.4L106.3,158.1L107.1,157.5L107.9,157.4L108.7,157.7L109.5,157.7L110.2,157.9L111.0,158.9L111.8,159.7L112.6,160.2L113.4,160.8L114.1,160.8L114.9,160.4L115.7,160.6L116.5,161.2L117.3,161.0L118.0,160.8L118.8,160.8L119.6,160.5L120.4,160.8L121.2,161.7L122.0,162.0L122.7,161.7L123.5,161.7L124.3,161.8L125.1,162.0L125.9,162.9L126.6,163.8L127.4,164.1L128.2,164.4L129.0,165.0L129.8,165.1L130.5,165.0L131.3,165.2L132.1,164.9L132.9,164.5L133.7,165.0L134.4,166.2L135.2,167.0L136.0,167.8L136.8,168.2L137.6,167.5L138.4,167.1L139.1,167.1L139.9,166.8L140.7,166.6L141.5,166.9L142.3,167.3L143.0,167.7L143.8,168.6L144.6,169.1L145.4,168.6L146.2,168.2L146.9,168.1L147.7,167.9L148.5,168.0L149.3,168.5L149.7,168.6" fill="none" stroke="#cc3a48" stroke-width="1.10" stroke-linejoin="round" stroke-linecap="round" stroke-opacity="0.88"/>
<text x="159.7" y="209.5" font-size="6.60" font-weight="bold" fill="#000" text-anchor="end" textLength="3.4" lengthAdjust="spacingAndGlyphs" stroke="#000" stroke-width="0.25">1</text>
<line x1="160.5" y1="206.9" x2="162.3" y2="206.9" stroke="#333" stroke-width="0.9"/>
<line x1="161.3" y1="201.0" x2="162.3" y2="201.0" stroke="#777" stroke-width="0.8"/>
<text x="159.7" y="197.8" font-size="6.60" font-weight="bold" fill="#000" text-anchor="end" textLength="3.4" lengthAdjust="spacingAndGlyphs" stroke="#000" stroke-width="0.25">2</text>
<line x1="160.5" y1="195.2" x2="162.3" y2="195.2" stroke="#333" stroke-width="0.9"/>
<line x1="161.3" y1="189.3" x2="162.3" y2="189.3" stroke="#777" stroke-width="0.8"/>
<text x="159.7" y="186.0" font-size="6.60" font-weight="bold" fill="#000" text-anchor="end" textLength="3.4" lengthAdjust="spacingAndGlyphs" stroke="#000" stroke-width="0.25">3</text>
<line x1="160.5" y1="183.4" x2="162.3" y2="183.4" stroke="#333" stroke-width="0.9"/>
<line x1="161.3" y1="177.5" x2="162.3" y2="177.5" stroke="#777" stroke-width="0.8"/>
<text x="159.7" y="174.2" font-size="6.60" font-weight="bold" fill="#000" text-anchor="end" textLength="3.4" lengthAdjust="spacingAndGlyphs" stroke="#000" stroke-width="0.25">4</text>
<line x1="160.5" y1="171.7" x2="162.3" y2="171.7" stroke="#333" stroke-width="0.9"/>
<line x1="161.3" y1="165.8" x2="162.3" y2="165.8" stroke="#777" stroke-width="0.8"/>
<text x="159.7" y="162.5" font-size="6.60" font-weight="bold" fill="#000" text-anchor="end" textLength="3.4" lengthAdjust="spacingAndGlyphs" stroke="#000" stroke-width="0.25">5</text>
<line x1="160.5" y1="159.9" x2="162.3" y2="159.9" stroke="#333" stroke-width="0.9"/>
<line x1="165.4" y1="210.9" x2="165.4" y2="212.1" stroke="#888" stroke-width="0.8"/>
<line x1="174.8" y1="210.9" x2="174.8" y2="212.1" stroke="#888" stroke-width="0.8"/>
<line x1="184.2" y1="210.9" x2="184.2" y2="212.1" stroke="#888" stroke-width="0.8"/>
<line x1="193.5" y1="210.9" x2="193.5" y2="212.1" stroke="#888" stroke-width="0.8"/>
<line x1="202.9" y1="210.9" x2="202.9" y2="212.1" stroke="#888" stroke-width="0.8"/>
<line x1="212.3" y1="210.9" x2="212.3" y2="212.1" stroke="#888" stroke-width="0.8"/>
<line x1="221.7" y1="210.9" x2="221.7" y2="212.1" stroke="#888" stroke-width="0.8"/>
<line x1="231.0" y1="210.9" x2="231.0" y2="212.1" stroke="#888" stroke-width="0.8"/>
<line x1="240.4" y1="210.9" x2="240.4" y2="212.1" stroke="#888" stroke-width="0.8"/>
<text x="165.4" y="219.3" font-size="7.00" font-weight="bold" fill="#000" text-anchor="middle" stroke="#000" stroke-width="0.25">0</text>
<text x="174.8" y="219.3" font-size="7.00" font-weight="bold" fill="#000" text-anchor="middle" stroke="#000" stroke-width="0.25">30</text>
<text x="193.5" y="219.3" font-size="7.00" font-weight="bold" fill="#000" text-anchor="middle" stroke="#000" stroke-width="0.25">90</text>
<text x="240.4" y="219.3" font-size="7.00" font-weight="bold" fill="#000" text-anchor="middle" stroke="#000" stroke-width="0.25">240</text>
<path d="M177.0,208.8L177.7,208.8L178.5,208.8L179.3,208.8L180.1,208.8L180.9,208.8L181.7,208.8L182.4,208.8L183.2,208.8L184.0,208.8L184.8,208.8L185.6,208.8L186.3,208.8L187.1,208.8L187.9,208.8L188.7,208.8L189.5,208.8L190.2,208.8L191.0,208.8L191.8,208.8L192.6,208.8L193.4,208.8L194.2,208.8L194.9,208.8L195.7,208.8L196.5,208.8L197.3,208.8L198.1,208.8L198.8,208.8L199.6,208.8L200.4,208.8L201.2,208.8L202.0,208.8L202.7,208.8L203.5,208.8L204.3,208.8L205.1,208.8L205.9,208.8L206.7,208.8L207.4,208.8L208.2,208.8L209.0,208.8L209.8,208.8L210.6,208.8L211.3,208.8L212.1,208.8L212.9,208.8L213.7,208.8L214.5,208.8L215.2,208.8L216.0,208.8L216.8,208.8L217.6,208.8L218.4,208.8L219.2,208.8L219.9,208.8L220.7,208.8L221.5,208.8L222.3,208.8L223.1,208.8L223.8,208.8L224.6,208.8L225.4,208.8L226.2,208.8L227.0,208.8L227.7,208.8L228.5,208.8L229.3,208.8L230.1,208.8L230.9,208.8L231.7,208.8L232.4,208.8L233.2,208.8L234.0,208.8L234.8,208.8L235.6,208.8L236.3,208.8L237.1,208.8L237.9,208.8L238.7,208.8L239.5,208.8L240.2,208.8L240.4,208.8" fill="none" stroke="#2a2a2a" stroke-width="1.60" stroke-linejoin="round" stroke-linecap="butt"/>
<path d="M165.4,206.9L166.2,206.9L167.0,206.9L167.7,206.9L168.5,206.9L169.3,206.9L170.1,206.9L170.9,206.9L171.7,206.9L172.4,206.9L173.2,206.9L174.0,206.9L174.2,206.9" fill="none" stroke="#1f5a5a" stroke-width="2.00" stroke-linejoin="round" stroke-linecap="butt"/>
<path d="M177.0,208.0L177.7,208.0L178.5,208.0L179.3,208.0L180.1,208.0L180.9,208.0L181.7,207.9L182.4,207.9L183.2,208.0L184.0,208.0L184.8,208.0L185.6,207.6L186.3,207.2L187.1,206.8L187.9,206.4L188.7,206.1L189.5,205.7L190.2,205.3L191.0,205.0L191.8,204.6L192.6,204.3L193.4,204.0L194.2,203.7L194.9,203.3L195.7,203.0L196.5,202.7L197.3,202.4L198.1,202.1L198.8,201.9L199.6,201.8L200.4,201.8L201.2,201.8L202.0,201.9L202.7,201.8L203.5,201.8L204.3,201.7L205.1,201.7L205.9,201.7L206.7,201.8L207.4,201.8L208.2,201.8L209.0,201.8L209.8,201.8L210.6,201.9L211.3,202.0L212.1,202.1L212.9,202.1L213.7,202.2L214.5,202.4L215.2,202.5L216.0,202.6L216.8,202.8L217.6,202.8L218.4,202.8L219.2,202.9L219.9,203.0L220.7,203.1L221.5,203.2L222.3,203.3L223.1,203.4L223.8,203.5L224.6,203.7L225.4,203.7L226.2,203.8L227.0,203.8L227.7,203.8L228.5,203.9L229.3,204.1L230.1,204.2L230.9,204.2L231.7,204.3L232.4,204.4L233.2,204.5L234.0,204.6L234.8,204.7L235.6,204.7L236.3,204.7L237.1,204.8L237.9,205.0L238.7,205.1L239.5,205.2L240.2,205.3L240.4,205.3" fill="none" stroke="#46c846" stroke-width="1.30" stroke-linejoin="round" stroke-linecap="round"/>
<path d="M177.0,208.1L177.7,208.1L178.5,208.1L179.3,208.0L180.1,207.8L180.9,207.9L181.7,208.0L182.4,208.0L183.2,208.0L184.0,208.0L184.8,208.0L185.6,208.0L186.3,208.1L187.1,208.0L187.9,207.9L188.7,207.9L189.5,207.9L190.2,207.6L191.0,207.3L191.8,207.0L192.6,206.6L193.4,206.1L194.2,205.7L194.9,205.3L195.7,204.9L196.5,204.5L197.3,204.2L198.1,203.8L198.8,203.5L199.6,203.3L200.4,203.0L201.2,202.6L202.0,202.2L202.7,202.0L203.5,201.8L204.3,201.8L205.1,201.7L205.9,201.5L206.7,201.5L207.4,201.4L208.2,201.3L209.0,201.3L209.8,201.2L210.6,201.0L211.3,201.0L212.1,201.0L212.9,201.0L213.7,201.0L214.5,201.1L215.2,201.1L216.0,201.1L216.8,201.2L217.6,201.3L218.4,201.3L219.2,201.4L219.9,201.4L220.7,201.4L221.5,201.5L222.3,201.7L223.1,201.9L223.8,201.9L224.6,201.9L225.4,201.9L226.2,201.9L227.0,202.0L227.7,202.0L228.5,201.9L229.3,202.0L230.1,202.1L230.9,202.2L231.7,202.3L232.4,202.4L233.2,202.3L234.0,202.2L234.8,202.3L235.6,202.3L236.3,202.4L237.1,202.4L237.9,202.5L238.7,202.5L239.5,202.6L240.2,202.8L240.4,202.8" fill="none" stroke="#2a36c0" stroke-width="1.60" stroke-linejoin="round" stroke-linecap="butt"/>
<path d="M177.0,208.0L177.7,208.0L178.5,207.9L179.3,207.9L180.1,208.0L180.9,207.9L181.7,206.1L182.4,203.1L183.2,200.1L184.0,195.3L184.8,189.6L185.6,183.7L186.3,179.0L187.1,175.0L187.9,171.1L188.7,168.0L189.5,165.6L190.2,163.3L191.0,160.9L191.8,159.3L192.6,158.1L193.4,156.8L194.2,156.1L194.9,155.6L195.7,155.2L196.5,154.8L197.3,154.4L198.1,154.0L198.4,153.7" fill="none" stroke="#cc3a48" stroke-width="1.10" stroke-linejoin="round" stroke-linecap="round" stroke-opacity="0.88"/>
<path d="M197.9,153.9L198.7,155.4L199.5,156.3L200.2,156.2L201.0,156.7L201.8,157.5L202.6,158.3L203.4,159.3L204.2,160.2L204.9,160.4L205.7,160.8L206.5,161.4L207.3,162.1L208.1,162.6L208.8,163.4L209.6,163.9L210.4,164.5L211.2,165.5L212.0,166.5L212.7,167.1L213.5,167.9L214.3,168.3L215.1,168.4L215.9,168.7L216.7,169.4L217.4,169.8L218.2,170.3L219.0,171.3L219.8,172.0L220.6,172.4L221.3,172.9L222.1,173.3L222.9,173.5L223.7,174.2L224.5,175.1L225.2,175.6L226.0,176.2L226.8,177.3L227.6,178.2L228.4,179.2L229.2,180.1L229.9,180.3L230.7,180.1L231.5,180.5L232.3,181.2L233.1,181.8L233.8,182.7L234.6,183.7L235.4,184.6L236.2,185.7L237.0,187.1L237.7,187.3L238.5,187.3L239.3,187.4L240.1,187.4L240.4,187.3" fill="none" stroke="#c43444" stroke-width="1.60" stroke-linejoin="round" stroke-linecap="butt"/>
<text x="251.4" y="209.5" font-size="6.60" font-weight="bold" fill="#000" text-anchor="end" textLength="3.4" lengthAdjust="spacingAndGlyphs" stroke="#000" stroke-width="0.25">1</text>
<line x1="252.2" y1="206.9" x2="254.0" y2="206.9" stroke="#333" stroke-width="0.9"/>
<line x1="253.0" y1="201.0" x2="254.0" y2="201.0" stroke="#777" stroke-width="0.8"/>
<text x="251.4" y="197.8" font-size="6.60" font-weight="bold" fill="#000" text-anchor="end" textLength="3.4" lengthAdjust="spacingAndGlyphs" stroke="#000" stroke-width="0.25">2</text>
<line x1="252.2" y1="195.2" x2="254.0" y2="195.2" stroke="#333" stroke-width="0.9"/>
<line x1="253.0" y1="189.3" x2="254.0" y2="189.3" stroke="#777" stroke-width="0.8"/>
<text x="251.4" y="186.0" font-size="6.60" font-weight="bold" fill="#000" text-anchor="end" textLength="3.4" lengthAdjust="spacingAndGlyphs" stroke="#000" stroke-width="0.25">3</text>
<line x1="252.2" y1="183.4" x2="254.0" y2="183.4" stroke="#333" stroke-width="0.9"/>
<line x1="253.0" y1="177.5" x2="254.0" y2="177.5" stroke="#777" stroke-width="0.8"/>
<text x="251.4" y="174.2" font-size="6.60" font-weight="bold" fill="#000" text-anchor="end" textLength="3.4" lengthAdjust="spacingAndGlyphs" stroke="#000" stroke-width="0.25">4</text>
<line x1="252.2" y1="171.7" x2="254.0" y2="171.7" stroke="#333" stroke-width="0.9"/>
<line x1="253.0" y1="165.8" x2="254.0" y2="165.8" stroke="#777" stroke-width="0.8"/>
<text x="251.4" y="162.5" font-size="6.60" font-weight="bold" fill="#000" text-anchor="end" textLength="3.4" lengthAdjust="spacingAndGlyphs" stroke="#000" stroke-width="0.25">5</text>
<line x1="252.2" y1="159.9" x2="254.0" y2="159.9" stroke="#333" stroke-width="0.9"/>
<line x1="257.1" y1="210.9" x2="257.1" y2="212.1" stroke="#888" stroke-width="0.8"/>
<line x1="266.5" y1="210.9" x2="266.5" y2="212.1" stroke="#888" stroke-width="0.8"/>
<line x1="275.9" y1="210.9" x2="275.9" y2="212.1" stroke="#888" stroke-width="0.8"/>
<line x1="285.2" y1="210.9" x2="285.2" y2="212.1" stroke="#888" stroke-width="0.8"/>
<line x1="294.6" y1="210.9" x2="294.6" y2="212.1" stroke="#888" stroke-width="0.8"/>
<line x1="304.0" y1="210.9" x2="304.0" y2="212.1" stroke="#888" stroke-width="0.8"/>
<line x1="313.4" y1="210.9" x2="313.4" y2="212.1" stroke="#888" stroke-width="0.8"/>
<line x1="322.7" y1="210.9" x2="322.7" y2="212.1" stroke="#888" stroke-width="0.8"/>
<line x1="332.1" y1="210.9" x2="332.1" y2="212.1" stroke="#888" stroke-width="0.8"/>
<text x="257.1" y="219.3" font-size="7.00" font-weight="bold" fill="#000" text-anchor="middle" stroke="#000" stroke-width="0.25">0</text>
<text x="266.5" y="219.3" font-size="7.00" font-weight="bold" fill="#000" text-anchor="middle" stroke="#000" stroke-width="0.25">30</text>
<text x="285.2" y="219.3" font-size="7.00" font-weight="bold" fill="#000" text-anchor="middle" stroke="#000" stroke-width="0.25">90</text>
<text x="332.1" y="219.3" font-size="7.00" font-weight="bold" fill="#000" text-anchor="middle" stroke="#000" stroke-width="0.25">240</text>
<path d="M269.0,208.5L269.8,208.5L270.5,208.5L271.3,208.5L272.1,208.5L272.9,208.5L273.7,208.5L274.4,208.5L275.2,208.5L276.0,208.5L276.8,208.5L277.6,208.5L278.4,208.5L279.1,208.5L279.9,208.5L280.7,208.5L281.5,208.5L282.3,208.5L283.0,208.5L283.8,208.5L284.6,208.5L285.4,208.5L286.2,208.5L286.9,208.5L287.7,208.5L288.5,208.5L289.3,208.5L290.1,208.5L290.9,208.5L291.6,208.5L292.4,208.5L293.2,208.5L294.0,208.5L294.8,208.5L295.5,208.5L296.3,208.5L297.1,208.5L297.9,208.5L298.7,208.5L299.4,208.5L300.2,208.5L301.0,208.5L301.8,208.5L302.6,208.5L303.4,208.5L304.1,208.5L304.9,208.5L305.7,208.5L306.5,208.5L307.3,208.5L308.0,208.5L308.8,208.5L309.6,208.5L310.4,208.5L311.2,208.5L311.9,208.5L312.7,208.5L313.5,208.5L314.3,208.5L315.1,208.5L315.9,208.5L316.6,208.5L317.4,208.5L318.2,208.5L319.0,208.5L319.8,208.5L320.5,208.5L321.3,208.5L322.1,208.5L322.9,208.5L323.7,208.5L324.4,208.5L325.2,208.5L326.0,208.5L326.8,208.5L327.6,208.5L328.4,208.5L329.1,208.5L329.9,208.5L330.7,208.5L331.5,208.5L332.1,208.5" fill="none" stroke="#2a2a2a" stroke-width="1.20" stroke-linejoin="round" stroke-linecap="round"/>
<path d="M257.1,208.3L257.9,208.3L258.7,208.3L259.4,208.3L260.2,208.3L261.0,208.3L261.8,208.3L262.6,208.3L263.4,208.3L264.1,208.3L264.9,208.3L265.7,208.3L265.9,208.3" fill="none" stroke="#46c846" stroke-width="1.30" stroke-linejoin="round" stroke-linecap="round"/>
<path d="M269.0,207.8L269.8,207.7L270.5,207.7L271.3,207.7L272.1,207.7L272.9,207.7L273.7,207.7L274.4,207.7L275.2,207.7L276.0,207.8L276.8,207.8L277.6,207.7L278.4,207.7L279.1,207.7L279.9,207.7L280.7,207.7L281.5,207.8L282.3,207.8L283.0,207.7L283.8,207.8L284.6,207.8L285.4,207.7L286.2,207.7L286.9,207.7L287.7,207.7L288.5,207.7L289.3,207.8L290.1,207.8L290.9,207.8L291.6,207.8L292.4,207.7L293.2,207.7L294.0,207.7L294.8,207.7L295.5,207.7L296.3,207.7L297.1,207.7L297.9,207.7L298.7,207.8L299.4,207.8L300.2,207.8L301.0,207.7L301.8,207.7L302.6,207.7L303.4,207.7L304.1,207.7L304.9,207.7L305.7,207.7L306.5,207.7L307.3,207.8L308.0,207.8L308.8,207.7L309.6,207.7L310.4,207.7L311.2,207.7L311.9,207.7L312.7,207.8L313.5,207.8L314.3,207.8L315.1,207.8L315.9,207.7L316.6,207.7L317.4,207.8L318.2,207.7L319.0,207.7L319.8,207.7L320.5,207.7L321.3,207.8L322.1,207.8L322.9,207.8L323.7,207.7L324.4,207.7L325.2,207.7L326.0,207.7L326.8,207.7L327.6,207.7L328.4,207.7L329.1,207.7L329.9,207.8L330.7,207.8L331.5,207.8L332.1,207.7" fill="none" stroke="#2a3590" stroke-width="1.20" stroke-linejoin="round" stroke-linecap="round"/>
<path d="M269.0,207.9L269.8,207.8L270.5,207.8L271.3,207.9L272.1,208.0L272.9,208.0L273.7,208.2L274.4,208.2L275.2,208.0L276.0,208.0L276.8,208.0L277.6,207.7L278.4,207.4L279.1,207.1L279.9,206.8L280.7,206.4L281.5,206.2L282.3,205.9L283.0,205.5L283.8,205.1L284.6,204.7L285.4,204.3L286.2,204.1L286.9,204.0L287.7,203.7L288.5,203.4L289.3,203.2L290.1,202.9L290.9,202.7L291.6,202.7L292.4,202.6L293.2,202.4L294.0,202.4L294.8,202.5L295.5,202.5L296.3,202.5L297.1,202.6L297.9,202.4L298.7,202.3L299.4,202.2L300.2,202.1L301.0,201.9L301.8,201.9L302.6,201.8L303.4,201.7L304.1,201.7L304.9,201.7L305.7,201.6L306.5,201.4L307.3,201.2L308.0,201.1L308.8,201.2L309.6,201.3L310.4,201.4L311.2,201.4L311.9,201.6L312.7,201.7L313.5,201.7L314.3,201.8L315.1,201.8L315.9,201.8L316.6,201.9L317.4,202.1L318.2,202.3L319.0,202.4L319.8,202.6L320.5,202.7L321.3,202.8L322.1,203.0L322.9,203.1L323.7,203.0L324.4,202.9L325.2,202.9L326.0,202.8L326.8,202.9L327.6,203.0L328.4,203.0L329.1,202.8L329.9,202.8L330.7,202.7L331.5,202.6L332.1,202.6" fill="none" stroke="#7ed87e" stroke-width="1.30" stroke-linejoin="round" stroke-linecap="round"/>
<path d="M257.1,206.7L257.9,206.8L258.7,206.9L259.4,206.9L260.2,207.1L261.0,207.0L261.8,206.9L262.6,206.9L263.4,207.0L264.1,206.9L264.9,206.8L265.7,206.8L265.9,206.8" fill="none" stroke="#cc3a48" stroke-width="1.20" stroke-linejoin="round" stroke-linecap="round" stroke-opacity="0.88"/>
<path d="M269.0,207.6L269.8,207.7L270.5,207.7L271.3,207.7L272.1,207.6L272.9,207.6L273.7,207.7L274.4,207.7L275.2,207.6L276.0,207.7L276.8,207.4L277.6,206.9L278.4,206.4L279.1,205.9L279.9,205.1L280.7,204.4L281.5,203.9L282.3,203.0L283.0,202.2L283.8,201.4L284.6,200.4L285.4,199.5L286.2,198.7L286.9,197.6L287.7,196.2L288.5,194.8L289.3,193.5L290.1,192.1L290.9,191.9L291.6,191.8L292.4,191.5L293.2,191.2L294.0,190.9L294.8,189.8L295.5,188.5L296.3,187.4L297.1,186.2L297.9,185.8L298.7,185.5L299.4,185.4L300.2,185.2L301.0,185.0L301.8,184.9L302.6,185.0L303.4,185.0L304.1,185.3L304.9,185.4L305.7,185.2L306.5,185.0L307.3,184.9L308.0,184.7L308.8,184.8L309.6,185.3L310.4,185.6L311.2,185.8L311.9,186.1L312.7,185.9L313.5,185.7L314.3,185.6L315.1,185.5L315.9,185.8L316.6,186.2L317.4,186.6L318.2,187.0L319.0,187.3L319.8,187.7L320.5,187.7L321.3,187.8L322.1,188.1L322.9,188.4L323.7,188.6L324.4,188.9L325.2,189.0L326.0,189.0L326.8,189.2L327.6,189.3L328.4,189.4L329.1,189.4L329.9,189.5L330.7,189.7L331.5,189.9L332.1,190.1" fill="none" stroke="#cc3a48" stroke-width="1.20" stroke-linejoin="round" stroke-linecap="round" stroke-opacity="0.88"/>
<text x="69.0" y="279.1" font-size="6.60" font-weight="bold" fill="#000" text-anchor="end" textLength="3.4" lengthAdjust="spacingAndGlyphs" stroke="#000" stroke-width="0.25">1</text>
<line x1="69.8" y1="276.5" x2="71.6" y2="276.5" stroke="#333" stroke-width="0.9"/>
<line x1="70.6" y1="270.6" x2="71.6" y2="270.6" stroke="#777" stroke-width="0.8"/>
<text x="69.0" y="267.4" font-size="6.60" font-weight="bold" fill="#000" text-anchor="end" textLength="3.4" lengthAdjust="spacingAndGlyphs" stroke="#000" stroke-width="0.25">2</text>
<line x1="69.8" y1="264.8" x2="71.6" y2="264.8" stroke="#333" stroke-width="0.9"/>
<line x1="70.6" y1="258.9" x2="71.6" y2="258.9" stroke="#777" stroke-width="0.8"/>
<text x="69.0" y="255.6" font-size="6.60" font-weight="bold" fill="#000" text-anchor="end" textLength="3.4" lengthAdjust="spacingAndGlyphs" stroke="#000" stroke-width="0.25">3</text>
<line x1="69.8" y1="253.0" x2="71.6" y2="253.0" stroke="#333" stroke-width="0.9"/>
<line x1="70.6" y1="247.1" x2="71.6" y2="247.1" stroke="#777" stroke-width="0.8"/>
<text x="69.0" y="243.8" font-size="6.60" font-weight="bold" fill="#000" text-anchor="end" textLength="3.4" lengthAdjust="spacingAndGlyphs" stroke="#000" stroke-width="0.25">4</text>
<line x1="69.8" y1="241.2" x2="71.6" y2="241.2" stroke="#333" stroke-width="0.9"/>
<line x1="70.6" y1="235.4" x2="71.6" y2="235.4" stroke="#777" stroke-width="0.8"/>
<text x="69.0" y="232.1" font-size="6.60" font-weight="bold" fill="#000" text-anchor="end" textLength="3.4" lengthAdjust="spacingAndGlyphs" stroke="#000" stroke-width="0.25">5</text>
<line x1="69.8" y1="229.5" x2="71.6" y2="229.5" stroke="#333" stroke-width="0.9"/>
<line x1="74.7" y1="280.5" x2="74.7" y2="281.7" stroke="#888" stroke-width="0.8"/>
<line x1="84.1" y1="280.5" x2="84.1" y2="281.7" stroke="#888" stroke-width="0.8"/>
<line x1="93.5" y1="280.5" x2="93.5" y2="281.7" stroke="#888" stroke-width="0.8"/>
<line x1="102.8" y1="280.5" x2="102.8" y2="281.7" stroke="#888" stroke-width="0.8"/>
<line x1="112.2" y1="280.5" x2="112.2" y2="281.7" stroke="#888" stroke-width="0.8"/>
<line x1="121.6" y1="280.5" x2="121.6" y2="281.7" stroke="#888" stroke-width="0.8"/>
<line x1="130.9" y1="280.5" x2="130.9" y2="281.7" stroke="#888" stroke-width="0.8"/>
<line x1="140.3" y1="280.5" x2="140.3" y2="281.7" stroke="#888" stroke-width="0.8"/>
<line x1="149.7" y1="280.5" x2="149.7" y2="281.7" stroke="#888" stroke-width="0.8"/>
<text x="74.7" y="288.9" font-size="7.00" font-weight="bold" fill="#000" text-anchor="middle" stroke="#000" stroke-width="0.25">0</text>
<text x="84.1" y="288.9" font-size="7.00" font-weight="bold" fill="#000" text-anchor="middle" stroke="#000" stroke-width="0.25">30</text>
<text x="102.8" y="288.9" font-size="7.00" font-weight="bold" fill="#000" text-anchor="middle" stroke="#000" stroke-width="0.25">90</text>
<text x="149.7" y="288.9" font-size="7.00" font-weight="bold" fill="#000" text-anchor="middle" stroke="#000" stroke-width="0.25">240</text>
<text transform="translate(60.7,253.0) rotate(-90)" x="0" y="0" font-size="8.6" font-weight="bold" stroke="#000" stroke-width="0.25" text-anchor="middle" textLength="62" lengthAdjust="spacingAndGlyphs">Ratio FL-1/FL-3</text>
<path d="M74.7,277.0L75.5,277.0L76.3,277.0L77.0,277.0L77.8,277.0L78.6,277.0L79.4,277.0L80.2,277.0L81.0,277.0L81.7,277.0L82.5,277.0L83.3,277.0L83.5,277.0" fill="none" stroke="#3a7a3a" stroke-width="1.80" stroke-linejoin="round" stroke-linecap="butt"/>
<path d="M86.0,277.4L86.7,277.4L87.5,277.4L88.3,277.4L89.1,277.4L89.9,277.4L90.6,277.4L91.4,277.4L92.2,277.4L93.0,277.4L93.8,277.4L94.5,277.4L95.3,277.4L96.1,277.4L96.9,277.4L97.7,277.4L98.5,277.4L99.2,277.4L100.0,277.4L100.8,277.4L101.6,277.4L102.4,277.4L103.1,277.5L103.9,277.5L104.7,277.5L105.5,277.5L106.3,277.5L107.0,277.5L107.8,277.5L108.6,277.5L109.4,277.5L110.2,277.5L111.0,277.5L111.7,277.5L112.5,277.5L113.3,277.5L114.1,277.5L114.9,277.5L115.6,277.5L116.4,277.5L117.2,277.5L118.0,277.5L118.8,277.5L119.5,277.5L120.3,277.6L121.1,277.6L121.9,277.6L122.7,277.6L123.5,277.6L124.2,277.6L125.0,277.6L125.8,277.6L126.6,277.6L127.4,277.6L128.1,277.6L128.9,277.6L129.7,277.6L130.5,277.6L131.3,277.6L132.0,277.6L132.8,277.6L133.6,277.6L134.4,277.6L135.2,277.6L135.9,277.6L136.7,277.6L137.5,277.6L138.3,277.7L139.1,277.7L139.9,277.7L140.6,277.7L141.4,277.7L142.2,277.7L143.0,277.7L143.8,277.7L144.5,277.7L145.3,277.7L146.1,277.7L146.9,277.7L147.7,277.7L148.4,277.7L149.2,277.7L149.7,277.7" fill="none" stroke="#3a7a3a" stroke-width="1.80" stroke-linejoin="round" stroke-linecap="butt"/>
<path d="M74.7,264.1L75.5,265.2L76.3,265.9L77.0,266.2L77.8,266.8L78.6,266.9L79.4,266.9L80.2,267.5L81.0,267.8L81.7,267.4L82.5,267.3L83.3,267.8L83.5,267.9" fill="none" stroke="#4349c2" stroke-width="1.10" stroke-linejoin="round" stroke-linecap="round"/>
<path d="M86.6,271.6L87.4,271.4L88.1,270.6L88.9,269.9L89.7,268.9L90.5,267.7L91.3,265.7L92.0,264.0L92.8,261.6L93.6,259.3L94.4,257.4L95.2,256.4L96.0,255.8L96.7,255.3L97.5,254.5L98.3,253.4L99.1,253.2L99.9,253.3L100.6,253.4L101.4,253.6L102.2,253.3L103.0,252.2L103.8,251.4L104.5,251.1L105.3,250.5L106.1,250.5L106.9,250.9L107.7,251.0L108.5,251.3L109.2,252.6L110.0,253.8L110.8,253.9L111.6,253.8L112.4,253.8L113.1,253.4L113.9,253.5L114.7,254.1L115.5,254.1L116.3,253.7L117.0,253.9L117.8,254.2L118.6,254.2L119.4,254.4L120.2,254.2L121.0,253.5L121.7,253.4L122.5,254.0L123.3,254.4L124.1,254.8L124.9,255.6L125.6,255.7L126.4,255.8L127.2,256.7L128.0,257.2L128.8,257.0L129.5,257.0L130.3,257.2L131.1,257.1L131.9,257.6L132.7,258.5L133.4,258.5L134.2,258.2L135.0,258.3L135.8,258.2L136.6,258.2L137.4,258.6L138.1,258.6L138.9,258.2L139.7,258.6L140.5,259.5L141.3,260.1L142.0,260.6L142.8,261.0L143.6,260.5L144.4,259.8L145.2,260.1L145.9,260.2L146.7,259.9L147.5,260.1L148.3,260.3L149.1,260.2L149.7,260.6" fill="none" stroke="#4349c2" stroke-width="1.10" stroke-linejoin="round" stroke-linecap="round"/>
<path d="M74.7,263.5L75.5,264.3L76.3,265.2L77.0,265.3L77.8,265.2L78.6,265.7L79.4,266.0L80.2,266.2L81.0,266.7L81.7,267.1L82.5,267.2L83.3,268.1L83.5,268.3" fill="none" stroke="#cc3a48" stroke-width="1.10" stroke-linejoin="round" stroke-linecap="round" stroke-opacity="0.88"/>
<path d="M86.6,270.3L87.4,268.7L88.1,267.7L88.9,266.7L89.7,265.3L90.5,263.9L91.3,260.7L92.0,257.2L92.8,254.3L93.6,252.1L94.4,249.6L95.2,247.0L96.0,244.3L96.7,241.4L97.5,239.5L98.3,238.7L99.1,237.9L99.9,236.5L100.6,235.4L101.4,234.8L102.2,234.1L103.0,233.4L103.8,233.3L104.5,234.0L105.3,234.4L106.1,234.9L106.9,235.0L107.7,235.0L108.5,235.3L109.2,235.5L110.0,235.3L110.8,235.5L111.6,236.1L112.4,236.2L113.1,235.9L113.9,235.8L114.7,235.6L115.5,235.5L116.3,236.4L117.0,237.3L117.8,237.5L118.6,237.9L119.4,238.3L120.2,238.4L121.0,238.8L121.7,239.3L122.5,239.2L123.3,239.2L124.1,239.9L124.9,240.7L125.6,241.4L126.4,242.2L127.2,242.6L128.0,242.1L128.8,242.1L129.5,242.4L130.3,242.4L131.1,242.5L131.9,242.9L132.7,242.8L133.4,242.8L134.2,243.3L135.0,243.5L135.8,242.9L136.6,242.5L137.4,242.3L138.1,242.2L138.9,242.6L139.7,243.4L140.5,243.5L141.3,243.6L142.0,244.2L142.8,244.5L143.6,244.7L144.4,245.0L145.2,244.9L145.9,244.4L146.7,244.7L147.5,245.4L148.3,245.8L149.1,246.4L149.7,246.7" fill="none" stroke="#cc3a48" stroke-width="1.10" stroke-linejoin="round" stroke-linecap="round" stroke-opacity="0.88"/>
<text x="159.5" y="279.1" font-size="6.60" font-weight="bold" fill="#000" text-anchor="end" textLength="3.4" lengthAdjust="spacingAndGlyphs" stroke="#000" stroke-width="0.25">1</text>
<line x1="160.3" y1="276.5" x2="162.1" y2="276.5" stroke="#333" stroke-width="0.9"/>
<line x1="161.1" y1="270.6" x2="162.1" y2="270.6" stroke="#777" stroke-width="0.8"/>
<text x="159.5" y="267.4" font-size="6.60" font-weight="bold" fill="#000" text-anchor="end" textLength="3.4" lengthAdjust="spacingAndGlyphs" stroke="#000" stroke-width="0.25">2</text>
<line x1="160.3" y1="264.8" x2="162.1" y2="264.8" stroke="#333" stroke-width="0.9"/>
<line x1="161.1" y1="258.9" x2="162.1" y2="258.9" stroke="#777" stroke-width="0.8"/>
<text x="159.5" y="255.6" font-size="6.60" font-weight="bold" fill="#000" text-anchor="end" textLength="3.4" lengthAdjust="spacingAndGlyphs" stroke="#000" stroke-width="0.25">3</text>
<line x1="160.3" y1="253.0" x2="162.1" y2="253.0" stroke="#333" stroke-width="0.9"/>
<line x1="161.1" y1="247.1" x2="162.1" y2="247.1" stroke="#777" stroke-width="0.8"/>
<text x="159.5" y="243.8" font-size="6.60" font-weight="bold" fill="#000" text-anchor="end" textLength="3.4" lengthAdjust="spacingAndGlyphs" stroke="#000" stroke-width="0.25">4</text>
<line x1="160.3" y1="241.2" x2="162.1" y2="241.2" stroke="#333" stroke-width="0.9"/>
<line x1="161.1" y1="235.4" x2="162.1" y2="235.4" stroke="#777" stroke-width="0.8"/>
<text x="159.5" y="232.1" font-size="6.60" font-weight="bold" fill="#000" text-anchor="end" textLength="3.4" lengthAdjust="spacingAndGlyphs" stroke="#000" stroke-width="0.25">5</text>
<line x1="160.3" y1="229.5" x2="162.1" y2="229.5" stroke="#333" stroke-width="0.9"/>
<line x1="165.2" y1="280.5" x2="165.2" y2="281.7" stroke="#888" stroke-width="0.8"/>
<line x1="174.6" y1="280.5" x2="174.6" y2="281.7" stroke="#888" stroke-width="0.8"/>
<line x1="183.9" y1="280.5" x2="183.9" y2="281.7" stroke="#888" stroke-width="0.8"/>
<line x1="193.3" y1="280.5" x2="193.3" y2="281.7" stroke="#888" stroke-width="0.8"/>
<line x1="202.7" y1="280.5" x2="202.7" y2="281.7" stroke="#888" stroke-width="0.8"/>
<line x1="212.1" y1="280.5" x2="212.1" y2="281.7" stroke="#888" stroke-width="0.8"/>
<line x1="221.4" y1="280.5" x2="221.4" y2="281.7" stroke="#888" stroke-width="0.8"/>
<line x1="230.8" y1="280.5" x2="230.8" y2="281.7" stroke="#888" stroke-width="0.8"/>
<line x1="240.2" y1="280.5" x2="240.2" y2="281.7" stroke="#888" stroke-width="0.8"/>
<text x="165.2" y="288.9" font-size="7.00" font-weight="bold" fill="#000" text-anchor="middle" stroke="#000" stroke-width="0.25">0</text>
<text x="174.6" y="288.9" font-size="7.00" font-weight="bold" fill="#000" text-anchor="middle" stroke="#000" stroke-width="0.25">30</text>
<text x="193.3" y="288.9" font-size="7.00" font-weight="bold" fill="#000" text-anchor="middle" stroke="#000" stroke-width="0.25">90</text>
<text x="240.2" y="288.9" font-size="7.00" font-weight="bold" fill="#000" text-anchor="middle" stroke="#000" stroke-width="0.25">240</text>
<path d="M177.1,278.0L177.9,278.0L178.6,278.0L179.4,278.0L180.2,278.0L181.0,278.0L181.8,278.0L182.5,278.0L183.3,278.0L184.1,278.0L184.9,278.0L185.7,278.0L186.4,278.0L187.2,278.0L188.0,278.0L188.8,278.0L189.6,278.0L190.4,278.0L191.1,278.0L191.9,278.0L192.7,278.0L193.5,278.0L194.3,278.0L195.0,278.0L195.8,278.0L196.6,278.0L197.4,278.0L198.2,278.0L198.9,278.0L199.7,278.0L200.5,278.0L201.3,278.0L202.1,278.0L202.9,278.0L203.6,278.0L204.4,278.0L205.2,278.0L206.0,278.0L206.8,278.0L207.5,278.0L208.3,278.0L209.1,278.0L209.9,278.0L210.7,278.0L211.4,278.0L212.2,278.0L213.0,278.0L213.8,278.0L214.6,278.0L215.4,278.0L216.1,278.0L216.9,278.0L217.7,278.0L218.5,278.0L219.3,278.0L220.0,278.0L220.8,278.0L221.6,278.0L222.4,278.0L223.2,278.0L223.9,278.0L224.7,278.0L225.5,278.0L226.3,278.0L227.1,278.0L227.9,278.0L228.6,278.0L229.4,278.0L230.2,278.0L231.0,278.0L231.8,278.0L232.5,278.0L233.3,278.0L234.1,278.0L234.9,278.0L235.7,278.0L236.4,278.0L237.2,278.0L238.0,278.0L238.8,278.0L239.6,278.0L240.2,278.0" fill="none" stroke="#2a2a2a" stroke-width="1.00" stroke-linejoin="round" stroke-linecap="round"/>
<path d="M165.2,276.4L166.0,276.4L166.8,276.4L167.5,276.4L168.3,276.4L169.1,276.4L169.9,276.4L170.7,276.4L171.4,276.4L172.2,276.4L173.0,276.4L173.8,276.4L173.9,276.4" fill="none" stroke="#7a3a6e" stroke-width="3.00" stroke-linejoin="round" stroke-linecap="butt"/>
<path d="M176.8,277.2L177.5,277.2L178.3,277.2L179.1,277.2L179.9,277.2L180.3,277.2" fill="none" stroke="#7a3a6e" stroke-width="3.00" stroke-linejoin="round" stroke-linecap="butt"/>
<path d="M183.9,277.0L184.7,276.9L185.5,276.9L186.3,276.8L187.1,276.8L187.9,276.7L188.6,276.6L189.4,276.5L190.2,276.4L191.0,276.4L191.8,276.3L192.5,276.2L193.3,276.2L194.1,276.1L194.9,276.0L195.7,276.0L196.4,275.9L197.2,275.8L198.0,275.8L198.8,275.7L199.6,275.7L200.4,275.8L201.1,275.8L201.9,275.7L202.7,275.7L203.5,275.7L204.3,275.7L205.0,275.7L205.8,275.6L206.6,275.6L207.4,275.6L208.2,275.6L208.9,275.6L209.7,275.6L210.5,275.6L211.3,275.6L212.1,275.6L212.9,275.6L213.6,275.7L214.4,275.7L215.2,275.7L216.0,275.7L216.8,275.7L217.5,275.8L218.3,275.8L219.1,275.8L219.9,275.8L220.7,275.8L221.4,275.8L222.2,275.8L223.0,275.9L223.8,275.9L224.6,275.9L225.4,275.9L226.1,276.0L226.9,276.0L227.7,276.0L228.5,276.0L229.3,276.0L230.0,276.0L230.8,276.0L231.6,276.1L232.4,276.1L233.2,276.1L233.9,276.2L234.7,276.2L235.5,276.2L236.3,276.2L237.1,276.2L237.9,276.2L238.6,276.2L239.4,276.2L240.2,276.3" fill="none" stroke="#7ed87e" stroke-width="1.30" stroke-linejoin="round" stroke-linecap="round"/>
<path d="M179.6,277.0L180.4,276.8L181.1,276.7L181.9,276.5L182.7,276.4L183.5,276.2L184.3,276.1L185.0,276.0L185.8,275.8L186.6,275.6L187.4,275.4L188.2,275.2L188.9,275.1L189.7,275.0L190.5,274.9L191.3,274.9L192.1,274.9L192.9,274.8L193.6,274.8L194.4,274.8L195.2,274.7L196.0,274.6L196.8,274.6L197.5,274.6L198.3,274.5L199.1,274.5L199.9,274.6L200.7,274.6L201.4,274.6L202.2,274.6L203.0,274.7L203.8,274.6L204.6,274.7L205.4,274.7L206.1,274.7L206.9,274.8L207.7,274.9L208.5,274.9L209.3,274.9L210.0,274.9L210.8,274.9L211.6,274.9L212.4,275.0L213.2,275.0L213.9,275.0L214.7,275.1L215.5,275.2L216.3,275.2L217.1,275.2L217.9,275.3L218.6,275.3L219.4,275.3L220.2,275.4L221.0,275.4L221.8,275.4L222.5,275.5L223.3,275.6L224.1,275.6L224.9,275.7L225.7,275.7L226.4,275.7L227.2,275.7L228.0,275.8L228.8,275.8L229.6,275.9L230.4,275.9L231.1,275.9L231.9,276.0L232.7,276.0L233.5,276.0L234.3,276.0L235.0,276.1L235.8,276.1L236.6,276.1L237.4,276.1L238.2,276.2L238.9,276.3L239.7,276.3L240.2,276.3" fill="none" stroke="#2aa07a" stroke-width="1.30" stroke-linejoin="round" stroke-linecap="round"/>
<path d="M179.6,277.1L180.4,276.9L181.1,276.7L181.9,276.5L182.7,276.4L183.5,276.2L184.3,276.0L185.0,275.9L185.8,275.7L186.6,275.5L187.4,275.4L188.2,275.4L188.9,275.2L189.7,275.0L190.5,274.7L191.3,274.4L192.1,274.1L192.9,273.9L193.6,273.6L194.4,273.4L195.2,273.1L196.0,272.9L196.8,272.6L197.5,272.4L198.3,272.1L199.1,271.8L199.9,271.8L200.7,271.8L201.4,271.9L202.2,271.9L203.0,271.9L203.8,271.9L204.6,271.9L205.4,272.0L206.1,272.1L206.9,272.1L207.7,272.2L208.5,272.3L209.3,272.4L210.0,272.5L210.8,272.8L211.6,272.9L212.4,272.9L213.2,273.0L213.9,273.1L214.7,273.1L215.5,273.2L216.3,273.3L217.1,273.4L217.9,273.5L218.6,273.6L219.4,273.8L220.2,273.9L221.0,274.0L221.8,274.0L222.5,274.0L223.3,274.1L224.1,274.2L224.9,274.2L225.7,274.3L226.4,274.3L227.2,274.3L228.0,274.4L228.8,274.5L229.6,274.5L230.4,274.5L231.1,274.5L231.9,274.5L232.7,274.5L233.5,274.7L234.3,274.8L235.0,274.8L235.8,274.8L236.6,274.8L237.4,274.8L238.2,274.9L238.9,274.9L239.7,274.9L240.2,274.9" fill="none" stroke="#4349c2" stroke-width="1.30" stroke-linejoin="round" stroke-linecap="round"/>
<path d="M179.6,276.8L180.4,276.6L181.1,273.0L181.9,268.8L182.7,264.7L183.5,260.4L184.3,256.2L185.0,252.4L185.8,248.5L186.6,244.4L187.4,240.4L188.2,237.5L188.9,234.9L189.7,235.6L190.5,236.2L191.3,236.7L192.1,237.2L192.9,237.7L193.6,238.0L194.4,238.2L195.2,238.5L196.0,238.7L196.8,238.9L197.5,239.3L198.3,239.9L199.1,240.8L199.9,241.8L200.7,242.7L201.4,243.5L202.2,244.3L203.0,245.4L203.8,246.3L204.6,247.2L205.4,248.2L206.1,248.9L206.9,249.3L207.7,249.7L208.5,250.1L209.3,250.2L210.0,250.5L210.8,251.0L211.6,251.5L212.4,252.1L213.2,252.7L213.9,253.2L214.7,253.6L215.5,254.1L216.3,254.6L217.1,254.9L217.9,255.2L218.6,255.5L219.4,255.8L220.2,256.2L221.0,256.8L221.8,257.3L222.5,257.7L223.3,258.1L224.1,258.4L224.9,258.8L225.7,259.2L226.4,259.6L227.2,259.7L228.0,259.8L228.8,260.1L229.6,260.4L230.4,260.7L231.1,261.0L231.9,261.1L232.7,261.1L233.5,261.4L234.3,261.7L235.0,262.0L235.8,262.3L236.6,262.6L237.4,262.9L238.2,263.3L238.9,263.7L239.7,263.8L240.2,263.8" fill="none" stroke="#cc3a48" stroke-width="1.35" stroke-linejoin="round" stroke-linecap="round" stroke-opacity="0.88"/>
<text x="250.1" y="279.1" font-size="6.60" font-weight="bold" fill="#000" text-anchor="end" textLength="3.4" lengthAdjust="spacingAndGlyphs" stroke="#000" stroke-width="0.25">1</text>
<line x1="250.9" y1="276.5" x2="252.7" y2="276.5" stroke="#333" stroke-width="0.9"/>
<line x1="251.7" y1="270.6" x2="252.7" y2="270.6" stroke="#777" stroke-width="0.8"/>
<text x="250.1" y="267.4" font-size="6.60" font-weight="bold" fill="#000" text-anchor="end" textLength="3.4" lengthAdjust="spacingAndGlyphs" stroke="#000" stroke-width="0.25">2</text>
<line x1="250.9" y1="264.8" x2="252.7" y2="264.8" stroke="#333" stroke-width="0.9"/>
<line x1="251.7" y1="258.9" x2="252.7" y2="258.9" stroke="#777" stroke-width="0.8"/>
<text x="250.1" y="255.6" font-size="6.60" font-weight="bold" fill="#000" text-anchor="end" textLength="3.4" lengthAdjust="spacingAndGlyphs" stroke="#000" stroke-width="0.25">3</text>
<line x1="250.9" y1="253.0" x2="252.7" y2="253.0" stroke="#333" stroke-width="0.9"/>
<line x1="251.7" y1="247.1" x2="252.7" y2="247.1" stroke="#777" stroke-width="0.8"/>
<text x="250.1" y="243.8" font-size="6.60" font-weight="bold" fill="#000" text-anchor="end" textLength="3.4" lengthAdjust="spacingAndGlyphs" stroke="#000" stroke-width="0.25">4</text>
<line x1="250.9" y1="241.2" x2="252.7" y2="241.2" stroke="#333" stroke-width="0.9"/>
<line x1="251.7" y1="235.4" x2="252.7" y2="235.4" stroke="#777" stroke-width="0.8"/>
<text x="250.1" y="232.1" font-size="6.60" font-weight="bold" fill="#000" text-anchor="end" textLength="3.4" lengthAdjust="spacingAndGlyphs" stroke="#000" stroke-width="0.25">5</text>
<line x1="250.9" y1="229.5" x2="252.7" y2="229.5" stroke="#333" stroke-width="0.9"/>
<line x1="255.8" y1="280.5" x2="255.8" y2="281.7" stroke="#888" stroke-width="0.8"/>
<line x1="265.2" y1="280.5" x2="265.2" y2="281.7" stroke="#888" stroke-width="0.8"/>
<line x1="274.6" y1="280.5" x2="274.6" y2="281.7" stroke="#888" stroke-width="0.8"/>
<line x1="283.9" y1="280.5" x2="283.9" y2="281.7" stroke="#888" stroke-width="0.8"/>
<line x1="293.3" y1="280.5" x2="293.3" y2="281.7" stroke="#888" stroke-width="0.8"/>
<line x1="302.7" y1="280.5" x2="302.7" y2="281.7" stroke="#888" stroke-width="0.8"/>
<line x1="312.1" y1="280.5" x2="312.1" y2="281.7" stroke="#888" stroke-width="0.8"/>
<line x1="321.4" y1="280.5" x2="321.4" y2="281.7" stroke="#888" stroke-width="0.8"/>
<line x1="330.8" y1="280.5" x2="330.8" y2="281.7" stroke="#888" stroke-width="0.8"/>
<text x="255.8" y="288.9" font-size="7.00" font-weight="bold" fill="#000" text-anchor="middle" stroke="#000" stroke-width="0.25">0</text>
<text x="265.2" y="288.9" font-size="7.00" font-weight="bold" fill="#000" text-anchor="middle" stroke="#000" stroke-width="0.25">30</text>
<text x="283.9" y="288.9" font-size="7.00" font-weight="bold" fill="#000" text-anchor="middle" stroke="#000" stroke-width="0.25">90</text>
<text x="330.8" y="288.9" font-size="7.00" font-weight="bold" fill="#000" text-anchor="middle" stroke="#000" stroke-width="0.25">240</text>
<path d="M255.8,277.0L256.6,277.0L257.4,277.0L258.1,277.0L258.9,277.0L259.7,277.0L260.5,277.0L261.3,277.0L262.1,277.0L262.8,277.0L263.6,277.0L264.4,277.0L264.6,277.0" fill="none" stroke="#1f4a5a" stroke-width="1.80" stroke-linejoin="round" stroke-linecap="butt"/>
<path d="M267.7,277.5L268.5,277.5L269.2,277.5L270.0,277.5L270.8,277.5L271.6,277.5L272.4,277.5L273.1,277.5L273.9,277.5L274.7,277.5L275.5,277.5L276.3,277.5L277.1,277.5L277.8,277.5L278.6,277.5L279.4,277.5L280.2,277.5L281.0,277.5L281.7,277.5L282.5,277.5L283.3,277.5L284.1,277.5L284.9,277.5L285.6,277.5L286.4,277.5L287.2,277.5L288.0,277.5L288.8,277.5L289.6,277.5L290.3,277.5L291.1,277.5L291.9,277.5L292.7,277.5L293.5,277.5L294.2,277.5L295.0,277.5L295.8,277.5L296.6,277.5L297.4,277.5L298.1,277.5L298.9,277.5L299.7,277.5L300.5,277.5L301.3,277.5L302.1,277.5L302.8,277.5L303.6,277.5L304.4,277.5L305.2,277.5L306.0,277.5L306.7,277.5L307.5,277.5L308.3,277.5L309.1,277.5L309.9,277.5L310.6,277.5L311.4,277.5L312.2,277.5L313.0,277.5L313.8,277.5L314.6,277.5L315.3,277.5L316.1,277.5L316.9,277.5L317.7,277.5L318.5,277.5L319.2,277.5L320.0,277.5L320.8,277.5L321.6,277.5L322.4,277.5L323.1,277.5L323.9,277.5L324.7,277.5L325.5,277.5L326.3,277.5L327.1,277.5L327.8,277.5L328.6,277.5L329.4,277.5L330.2,277.5L330.8,277.5" fill="none" stroke="#1f4a5a" stroke-width="1.80" stroke-linejoin="round" stroke-linecap="butt"/>
<path d="M267.7,277.2L268.5,277.2L269.2,277.1L270.0,277.1L270.8,277.1L271.6,277.0L272.4,277.0L273.1,276.9L273.9,276.9L274.7,276.9L275.5,276.8L276.3,276.7L277.1,276.7L277.8,276.6L278.6,276.6L279.4,276.6L280.2,276.6L281.0,276.5L281.7,276.4L282.5,276.4L283.3,276.4L284.1,276.3L284.9,276.3L285.6,276.2L286.4,276.2L287.2,276.1L288.0,276.2L288.8,276.1L289.6,276.1L290.3,276.0L291.1,276.0L291.9,275.9L292.7,275.9L293.5,275.9L294.2,275.8L295.0,275.8L295.8,275.8L296.6,275.9L297.4,275.9L298.1,275.9L298.9,275.9L299.7,275.9L300.5,275.9L301.3,275.9L302.1,275.9L302.8,276.0L303.6,276.0L304.4,276.0L305.2,276.0L306.0,276.1L306.7,276.1L307.5,276.0L308.3,276.1L309.1,276.1L309.9,276.1L310.6,276.1L311.4,276.2L312.2,276.2L313.0,276.2L313.8,276.2L314.6,276.2L315.3,276.2L316.1,276.2L316.9,276.2L317.7,276.2L318.5,276.3L319.2,276.3L320.0,276.3L320.8,276.4L321.6,276.4L322.4,276.3L323.1,276.3L323.9,276.4L324.7,276.4L325.5,276.4L326.3,276.4L327.1,276.5L327.8,276.5L328.6,276.5L329.4,276.5L330.2,276.5L330.8,276.5" fill="none" stroke="#46c846" stroke-width="1.20" stroke-linejoin="round" stroke-linecap="round"/>
<path d="M267.7,277.3L268.5,277.2L269.2,277.2L270.0,277.2L270.8,277.2L271.6,277.2L272.4,277.1L273.1,277.0L273.9,277.0L274.7,277.1L275.5,277.1L276.3,277.1L277.1,277.1L277.8,277.1L278.6,277.0L279.4,277.0L280.2,276.9L281.0,276.7L281.7,276.5L282.5,276.5L283.3,276.4L284.1,276.3L284.9,276.2L285.6,276.1L286.4,275.9L287.2,275.7L288.0,275.6L288.8,275.5L289.6,275.5L290.3,275.4L291.1,275.3L291.9,275.2L292.7,275.2L293.5,275.1L294.2,275.0L295.0,274.9L295.8,274.8L296.6,274.6L297.4,274.6L298.1,274.6L298.9,274.7L299.7,274.7L300.5,274.7L301.3,274.7L302.1,274.7L302.8,274.8L303.6,274.8L304.4,274.7L305.2,274.7L306.0,274.8L306.7,274.8L307.5,274.9L308.3,275.0L309.1,275.0L309.9,275.0L310.6,275.1L311.4,275.1L312.2,275.1L313.0,275.2L313.8,275.2L314.6,275.2L315.3,275.4L316.1,275.5L316.9,275.5L317.7,275.5L318.5,275.5L319.2,275.5L320.0,275.5L320.8,275.6L321.6,275.6L322.4,275.7L323.1,275.7L323.9,275.8L324.7,275.8L325.5,275.9L326.3,275.9L327.1,275.8L327.8,275.8L328.6,275.9L329.4,276.0L330.2,276.0L330.8,276.1" fill="none" stroke="#d89a70" stroke-width="1.00" stroke-linejoin="round" stroke-linecap="round"/>
<text x="340.5" y="279.1" font-size="6.60" font-weight="bold" fill="#000" text-anchor="end" textLength="3.4" lengthAdjust="spacingAndGlyphs" stroke="#000" stroke-width="0.25">1</text>
<line x1="341.3" y1="276.5" x2="343.1" y2="276.5" stroke="#333" stroke-width="0.9"/>
<line x1="342.1" y1="270.6" x2="343.1" y2="270.6" stroke="#777" stroke-width="0.8"/>
<text x="340.5" y="267.4" font-size="6.60" font-weight="bold" fill="#000" text-anchor="end" textLength="3.4" lengthAdjust="spacingAndGlyphs" stroke="#000" stroke-width="0.25">2</text>
<line x1="341.3" y1="264.8" x2="343.1" y2="264.8" stroke="#333" stroke-width="0.9"/>
<line x1="342.1" y1="258.9" x2="343.1" y2="258.9" stroke="#777" stroke-width="0.8"/>
<text x="340.5" y="255.6" font-size="6.60" font-weight="bold" fill="#000" text-anchor="end" textLength="3.4" lengthAdjust="spacingAndGlyphs" stroke="#000" stroke-width="0.25">3</text>
<line x1="341.3" y1="253.0" x2="343.1" y2="253.0" stroke="#333" stroke-width="0.9"/>
<line x1="342.1" y1="247.1" x2="343.1" y2="247.1" stroke="#777" stroke-width="0.8"/>
<text x="340.5" y="243.8" font-size="6.60" font-weight="bold" fill="#000" text-anchor="end" textLength="3.4" lengthAdjust="spacingAndGlyphs" stroke="#000" stroke-width="0.25">4</text>
<line x1="341.3" y1="241.2" x2="343.1" y2="241.2" stroke="#333" stroke-width="0.9"/>
<line x1="342.1" y1="235.4" x2="343.1" y2="235.4" stroke="#777" stroke-width="0.8"/>
<text x="340.5" y="232.1" font-size="6.60" font-weight="bold" fill="#000" text-anchor="end" textLength="3.4" lengthAdjust="spacingAndGlyphs" stroke="#000" stroke-width="0.25">5</text>
<line x1="341.3" y1="229.5" x2="343.1" y2="229.5" stroke="#333" stroke-width="0.9"/>
<line x1="346.2" y1="280.5" x2="346.2" y2="281.7" stroke="#888" stroke-width="0.8"/>
<line x1="355.6" y1="280.5" x2="355.6" y2="281.7" stroke="#888" stroke-width="0.8"/>
<line x1="364.9" y1="280.5" x2="364.9" y2="281.7" stroke="#888" stroke-width="0.8"/>
<line x1="374.3" y1="280.5" x2="374.3" y2="281.7" stroke="#888" stroke-width="0.8"/>
<line x1="383.7" y1="280.5" x2="383.7" y2="281.7" stroke="#888" stroke-width="0.8"/>
<line x1="393.1" y1="280.5" x2="393.1" y2="281.7" stroke="#888" stroke-width="0.8"/>
<line x1="402.4" y1="280.5" x2="402.4" y2="281.7" stroke="#888" stroke-width="0.8"/>
<line x1="411.8" y1="280.5" x2="411.8" y2="281.7" stroke="#888" stroke-width="0.8"/>
<line x1="421.2" y1="280.5" x2="421.2" y2="281.7" stroke="#888" stroke-width="0.8"/>
<text x="346.2" y="288.9" font-size="7.00" font-weight="bold" fill="#000" text-anchor="middle" stroke="#000" stroke-width="0.25">0</text>
<text x="355.6" y="288.9" font-size="7.00" font-weight="bold" fill="#000" text-anchor="middle" stroke="#000" stroke-width="0.25">30</text>
<text x="374.3" y="288.9" font-size="7.00" font-weight="bold" fill="#000" text-anchor="middle" stroke="#000" stroke-width="0.25">90</text>
<text x="421.2" y="288.9" font-size="7.00" font-weight="bold" fill="#000" text-anchor="middle" stroke="#000" stroke-width="0.25">240</text>
<path d="M346.2,277.0L347.0,277.0L347.8,277.0L348.5,277.0L349.3,277.0L350.1,277.0L350.9,277.0L351.7,277.0L352.4,277.0L353.2,277.0L354.0,277.0L354.8,277.0L354.9,277.0" fill="none" stroke="#2f5a2f" stroke-width="1.80" stroke-linejoin="round" stroke-linecap="butt"/>
<path d="M358.1,277.6L358.9,277.6L359.6,277.6L360.4,277.6L361.2,277.6L362.0,277.6L362.8,277.6L363.5,277.6L364.3,277.6L365.1,277.6L365.9,277.6L366.7,277.6L367.4,277.6L368.2,277.6L369.0,277.6L369.8,277.6L370.6,277.6L371.4,277.6L372.1,277.6L372.9,277.6L373.7,277.6L374.5,277.6L375.3,277.6L376.0,277.6L376.8,277.6L377.6,277.6L378.4,277.6L379.2,277.6L379.9,277.6L380.7,277.6L381.5,277.6L382.3,277.6L383.1,277.6L383.9,277.6L384.6,277.6L385.4,277.6L386.2,277.6L387.0,277.6L387.8,277.7L388.5,277.7L389.3,277.7L390.1,277.7L390.9,277.7L391.7,277.7L392.4,277.7L393.2,277.7L394.0,277.7L394.8,277.7L395.6,277.7L396.4,277.7L397.1,277.7L397.9,277.7L398.7,277.7L399.5,277.7L400.3,277.7L401.0,277.7L401.8,277.7L402.6,277.7L403.4,277.7L404.2,277.7L404.9,277.7L405.7,277.7L406.5,277.7L407.3,277.7L408.1,277.7L408.9,277.7L409.6,277.7L410.4,277.7L411.2,277.7L412.0,277.7L412.8,277.7L413.5,277.7L414.3,277.7L415.1,277.7L415.9,277.7L416.7,277.7L417.4,277.7L418.2,277.7L419.0,277.7L419.8,277.7L420.6,277.7L421.2,277.7" fill="none" stroke="#2f5a2f" stroke-width="1.80" stroke-linejoin="round" stroke-linecap="butt"/>
<path d="M358.1,277.3L358.9,277.2L359.6,277.1L360.4,277.1L361.2,277.1L362.0,277.1L362.8,277.2L363.5,277.1L364.3,277.1L365.1,277.1L365.9,277.1L366.7,277.1L367.4,277.0L368.2,276.9L369.0,276.6L369.8,276.4L370.6,276.3L371.4,276.0L372.1,275.8L372.9,275.5L373.7,275.2L374.5,275.0L375.3,274.8L376.0,274.5L376.8,274.2L377.6,273.9L378.4,273.7L379.2,273.6L379.9,273.5L380.7,273.4L381.5,273.2L382.3,272.9L383.1,272.8L383.9,272.7L384.6,272.5L385.4,272.4L386.2,272.2L387.0,272.2L387.8,272.2L388.5,272.3L389.3,272.2L390.1,272.2L390.9,272.1L391.7,272.0L392.4,272.0L393.2,272.1L394.0,272.1L394.8,272.0L395.6,272.1L396.4,272.1L397.1,272.0L397.9,272.0L398.7,272.0L399.5,271.9L400.3,271.8L401.0,271.8L401.8,271.9L402.6,271.9L403.4,272.0L404.2,272.0L404.9,272.0L405.7,272.0L406.5,272.1L407.3,272.1L408.1,272.1L408.9,272.1L409.6,272.1L410.4,272.2L411.2,272.3L412.0,272.4L412.8,272.4L413.5,272.4L414.3,272.4L415.1,272.4L415.9,272.5L416.7,272.6L417.4,272.6L418.2,272.6L419.0,272.7L419.8,272.8L420.6,272.9L421.2,272.9" fill="none" stroke="#4349c2" stroke-width="1.10" stroke-linejoin="round" stroke-linecap="round"/>
<path d="M358.1,277.3L358.9,277.3L359.6,277.2L360.4,277.1L361.2,277.1L362.0,277.1L362.8,277.1L363.5,277.1L364.3,277.1L365.1,277.1L365.9,277.1L366.7,277.1L367.4,277.1L368.2,276.9L369.0,276.5L369.8,276.1L370.6,275.7L371.4,275.3L372.1,275.0L372.9,274.5L373.7,274.1L374.5,273.8L375.3,273.4L376.0,272.9L376.8,272.6L377.6,272.3L378.4,272.0L379.2,271.8L379.9,271.6L380.7,271.4L381.5,271.1L382.3,270.9L383.1,270.8L383.9,270.6L384.6,270.5L385.4,270.3L386.2,270.1L387.0,269.9L387.8,269.8L388.5,269.9L389.3,270.0L390.1,270.0L390.9,269.9L391.7,269.8L392.4,269.8L393.2,269.8L394.0,269.8L394.8,269.8L395.6,269.8L396.4,269.8L397.1,269.9L397.9,270.0L398.7,269.9L399.5,269.9L400.3,269.9L401.0,269.9L401.8,269.9L402.6,270.1L403.4,270.1L404.2,270.1L404.9,270.2L405.7,270.2L406.5,270.3L407.3,270.3L408.1,270.3L408.9,270.3L409.6,270.3L410.4,270.4L411.2,270.5L412.0,270.6L412.8,270.7L413.5,270.7L414.3,270.8L415.1,270.9L415.9,271.0L416.7,271.0L417.4,271.1L418.2,271.2L419.0,271.2L419.8,271.4L420.6,271.6L421.2,271.6" fill="none" stroke="#cc3a48" stroke-width="1.10" stroke-linejoin="round" stroke-linecap="round" stroke-opacity="0.88"/>
<text x="69.1" y="348.7" font-size="6.60" font-weight="bold" fill="#000" text-anchor="end" textLength="3.4" lengthAdjust="spacingAndGlyphs" stroke="#000" stroke-width="0.25">1</text>
<line x1="69.9" y1="346.1" x2="71.7" y2="346.1" stroke="#333" stroke-width="0.9"/>
<line x1="70.7" y1="340.2" x2="71.7" y2="340.2" stroke="#777" stroke-width="0.8"/>
<text x="69.1" y="337.0" font-size="6.60" font-weight="bold" fill="#000" text-anchor="end" textLength="3.4" lengthAdjust="spacingAndGlyphs" stroke="#000" stroke-width="0.25">2</text>
<line x1="69.9" y1="334.4" x2="71.7" y2="334.4" stroke="#333" stroke-width="0.9"/>
<line x1="70.7" y1="328.5" x2="71.7" y2="328.5" stroke="#777" stroke-width="0.8"/>
<text x="69.1" y="325.2" font-size="6.60" font-weight="bold" fill="#000" text-anchor="end" textLength="3.4" lengthAdjust="spacingAndGlyphs" stroke="#000" stroke-width="0.25">3</text>
<line x1="69.9" y1="322.6" x2="71.7" y2="322.6" stroke="#333" stroke-width="0.9"/>
<line x1="70.7" y1="316.7" x2="71.7" y2="316.7" stroke="#777" stroke-width="0.8"/>
<text x="69.1" y="313.5" font-size="6.60" font-weight="bold" fill="#000" text-anchor="end" textLength="3.4" lengthAdjust="spacingAndGlyphs" stroke="#000" stroke-width="0.25">4</text>
<line x1="69.9" y1="310.9" x2="71.7" y2="310.9" stroke="#333" stroke-width="0.9"/>
<line x1="70.7" y1="305.0" x2="71.7" y2="305.0" stroke="#777" stroke-width="0.8"/>
<text x="69.1" y="301.7" font-size="6.60" font-weight="bold" fill="#000" text-anchor="end" textLength="3.4" lengthAdjust="spacingAndGlyphs" stroke="#000" stroke-width="0.25">5</text>
<line x1="69.9" y1="299.1" x2="71.7" y2="299.1" stroke="#333" stroke-width="0.9"/>
<line x1="74.8" y1="350.1" x2="74.8" y2="351.3" stroke="#888" stroke-width="0.8"/>
<line x1="84.2" y1="350.1" x2="84.2" y2="351.3" stroke="#888" stroke-width="0.8"/>
<line x1="93.5" y1="350.1" x2="93.5" y2="351.3" stroke="#888" stroke-width="0.8"/>
<line x1="102.9" y1="350.1" x2="102.9" y2="351.3" stroke="#888" stroke-width="0.8"/>
<line x1="112.3" y1="350.1" x2="112.3" y2="351.3" stroke="#888" stroke-width="0.8"/>
<line x1="121.7" y1="350.1" x2="121.7" y2="351.3" stroke="#888" stroke-width="0.8"/>
<line x1="131.1" y1="350.1" x2="131.1" y2="351.3" stroke="#888" stroke-width="0.8"/>
<line x1="140.4" y1="350.1" x2="140.4" y2="351.3" stroke="#888" stroke-width="0.8"/>
<line x1="149.8" y1="350.1" x2="149.8" y2="351.3" stroke="#888" stroke-width="0.8"/>
<text x="74.8" y="358.5" font-size="7.00" font-weight="bold" fill="#000" text-anchor="middle" stroke="#000" stroke-width="0.25">0</text>
<text x="84.2" y="358.5" font-size="7.00" font-weight="bold" fill="#000" text-anchor="middle" stroke="#000" stroke-width="0.25">30</text>
<text x="102.9" y="358.5" font-size="7.00" font-weight="bold" fill="#000" text-anchor="middle" stroke="#000" stroke-width="0.25">90</text>
<text x="149.8" y="358.5" font-size="7.00" font-weight="bold" fill="#000" text-anchor="middle" stroke="#000" stroke-width="0.25">240</text>
<text transform="translate(60.8,322.6) rotate(-90)" x="0" y="0" font-size="8.6" font-weight="bold" stroke="#000" stroke-width="0.25" text-anchor="middle" textLength="62" lengthAdjust="spacingAndGlyphs">Ratio FL-1/FL-3</text>
<text x="111.0" y="368.6" font-size="7.80" font-weight="bold" fill="#000" text-anchor="middle" textLength="37.5" lengthAdjust="spacingAndGlyphs" stroke="#000" stroke-width="0.25">Time (sec.)</text>
<path d="M74.8,346.7L75.6,346.7L76.4,346.7L77.1,346.7L77.9,346.7L78.7,346.7L79.5,346.7L80.3,346.7L81.0,346.7L81.8,346.7L82.6,346.7L83.4,346.7L83.5,346.7" fill="none" stroke="#2f5f2f" stroke-width="1.20" stroke-linejoin="round" stroke-linecap="round"/>
<path d="M86.0,347.1L86.8,347.1L87.6,347.1L88.4,347.1L89.2,347.1L90.0,347.1L90.7,347.1L91.5,347.1L92.3,347.1L93.1,347.1L93.9,347.1L94.6,347.1L95.4,347.1L96.2,347.1L97.0,347.1L97.8,347.1L98.5,347.1L99.3,347.1L100.1,347.1L100.9,347.2L101.7,347.2L102.5,347.2L103.2,347.2L104.0,347.2L104.8,347.2L105.6,347.2L106.4,347.2L107.1,347.2L107.9,347.2L108.7,347.2L109.5,347.2L110.3,347.2L111.0,347.2L111.8,347.2L112.6,347.2L113.4,347.2L114.2,347.2L115.0,347.2L115.7,347.2L116.5,347.2L117.3,347.2L118.1,347.2L118.9,347.2L119.6,347.2L120.4,347.2L121.2,347.2L122.0,347.2L122.8,347.2L123.5,347.2L124.3,347.2L125.1,347.2L125.9,347.2L126.7,347.2L127.5,347.3L128.2,347.3L129.0,347.3L129.8,347.3L130.6,347.3L131.4,347.3L132.1,347.3L132.9,347.3L133.7,347.3L134.5,347.3L135.3,347.3L136.1,347.3L136.8,347.3L137.6,347.3L138.4,347.3L139.2,347.3L140.0,347.3L140.7,347.3L141.5,347.3L142.3,347.3L143.1,347.3L143.9,347.3L144.6,347.3L145.4,347.3L146.2,347.3L147.0,347.3L147.8,347.3L148.6,347.3L149.3,347.3L149.8,347.3" fill="none" stroke="#2f5f2f" stroke-width="1.20" stroke-linejoin="round" stroke-linecap="round"/>
<path d="M74.8,346.4L75.6,346.3L76.4,346.3L77.1,346.3L77.9,346.3L78.7,346.2L79.5,346.2L80.3,346.2L81.0,346.2L81.8,346.3L82.6,346.4L83.4,346.3L83.5,346.3" fill="none" stroke="#4cc04c" stroke-width="1.40" stroke-linejoin="round" stroke-linecap="round"/>
<path d="M86.0,346.6L86.8,346.6L87.6,346.5L88.4,346.6L89.2,346.7L90.0,346.7L90.7,346.7L91.5,346.7L92.3,346.6L93.1,346.6L93.9,346.6L94.6,346.6L95.4,346.6L96.2,346.6L97.0,346.7L97.8,346.7L98.5,346.8L99.3,346.8L100.1,346.7L100.9,346.6L101.7,346.6L102.5,346.6L103.2,346.7L104.0,346.7L104.8,346.7L105.6,346.7L106.4,346.8L107.1,346.8L107.9,346.7L108.7,346.7L109.5,346.6L110.3,346.6L111.0,346.7L111.8,346.8L112.6,346.8L113.4,346.7L114.2,346.8L115.0,346.8L115.7,346.7L116.5,346.7L117.3,346.7L118.1,346.6L118.9,346.7L119.6,346.7L120.4,346.8L121.2,346.8L122.0,346.8L122.8,346.8L123.5,346.7L124.3,346.7L125.1,346.8L125.9,346.7L126.7,346.7L127.5,346.8L128.2,346.7L129.0,346.8L129.8,346.9L130.6,346.9L131.4,346.8L132.1,346.8L132.9,346.7L133.7,346.7L134.5,346.8L135.3,346.8L136.1,346.8L136.8,346.8L137.6,346.9L138.4,346.9L139.2,346.9L140.0,346.8L140.7,346.8L141.5,346.7L142.3,346.8L143.1,346.8L143.9,346.9L144.6,346.9L145.4,346.9L146.2,346.8L147.0,346.9L147.8,346.9L148.6,346.8L149.3,346.8L149.8,346.8" fill="none" stroke="#4cc04c" stroke-width="1.40" stroke-linejoin="round" stroke-linecap="round"/>
<path d="M74.8,335.0L75.6,335.4L76.4,335.9L77.1,336.4L77.9,336.2L78.7,335.9L79.5,336.6L80.3,337.3L81.0,337.7L81.8,338.3L82.6,338.2L83.4,337.6L83.5,337.6" fill="none" stroke="#4349c2" stroke-width="1.10" stroke-linejoin="round" stroke-linecap="round"/>
<path d="M86.7,341.0L87.5,340.4L88.2,340.4L89.0,340.1L89.8,339.3L90.6,338.7L91.4,336.2L92.1,333.2L92.9,331.3L93.7,329.8L94.5,327.7L95.3,326.9L96.0,326.2L96.8,324.9L97.6,324.5L98.4,324.8L99.2,324.3L100.0,323.4L100.7,323.2L101.5,323.0L102.3,322.7L103.1,322.9L103.9,322.8L104.6,321.6L105.4,320.6L106.2,320.3L107.0,320.4L107.8,320.6L108.5,321.1L109.3,321.2L110.1,321.3L110.9,322.3L111.7,323.3L112.5,323.5L113.2,323.5L114.0,323.4L114.8,322.8L115.6,322.9L116.4,323.4L117.1,323.4L117.9,323.1L118.7,323.5L119.5,323.8L120.3,323.9L121.0,324.5L121.8,324.6L122.6,323.8L123.4,323.5L124.2,323.8L125.0,324.0L125.7,324.5L126.5,325.1L127.3,324.9L128.1,324.5L128.9,324.8L129.6,325.3L130.4,325.6L131.2,326.2L132.0,326.3L132.8,325.4L133.6,325.4L134.3,326.5L135.1,327.1L135.9,327.3L136.7,327.7L137.5,327.5L138.2,327.3L139.0,327.9L139.8,328.2L140.6,327.9L141.4,328.3L142.1,329.0L142.9,329.4L143.7,329.9L144.5,330.0L145.3,329.2L146.1,328.3L146.8,328.3L147.6,328.3L148.4,328.4L149.2,328.9L149.8,329.2" fill="none" stroke="#4349c2" stroke-width="1.10" stroke-linejoin="round" stroke-linecap="round"/>
<path d="M74.8,333.4L75.6,333.4L76.4,333.3L77.1,333.0L77.9,333.3L78.7,334.2L79.5,334.6L80.3,334.7L81.0,335.0L81.8,335.0L82.6,334.9L83.4,335.3L83.5,335.3" fill="none" stroke="#cc3a48" stroke-width="1.10" stroke-linejoin="round" stroke-linecap="round" stroke-opacity="0.88"/>
<path d="M86.7,340.6L87.5,339.6L88.2,338.1L89.0,337.0L89.8,336.2L90.6,334.0L91.4,331.2L92.1,328.6L92.9,325.6L93.7,323.0L94.5,320.3L95.3,317.1L96.0,313.2L96.8,309.4L97.6,307.0L98.4,304.9L99.2,303.5L100.0,302.3L100.7,301.6L101.5,301.4L102.3,301.5L103.1,301.4L103.9,301.2L104.6,301.2L105.4,300.9L106.2,300.7L107.0,301.2L107.8,302.0L108.5,302.7L109.3,303.4L110.1,303.7L110.9,303.5L111.7,303.4L112.5,303.9L113.2,303.8L114.0,303.5L114.8,303.5L115.6,303.5L116.4,303.6L117.1,304.5L117.9,305.3L118.7,305.3L119.5,305.2L120.3,305.3L121.0,305.1L121.8,305.2L122.6,305.7L123.4,305.7L124.2,305.6L125.0,306.1L125.7,306.8L126.5,307.1L127.3,307.4L128.1,307.5L128.9,306.9L129.6,306.8L130.4,307.3L131.2,307.6L132.0,307.8L132.8,308.3L133.6,308.6L134.3,308.7L135.1,309.4L135.9,309.8L136.7,309.5L137.5,309.4L138.2,309.5L139.0,309.6L139.8,310.2L140.6,311.1L141.4,311.4L142.1,311.2L142.9,310.9L143.7,310.4L144.5,309.8L145.3,309.7L146.1,309.7L146.8,309.3L147.6,309.6L148.4,311.1L149.2,312.7L149.8,313.4" fill="none" stroke="#cc3a48" stroke-width="1.10" stroke-linejoin="round" stroke-linecap="round" stroke-opacity="0.88"/>
<text x="160.1" y="348.7" font-size="6.60" font-weight="bold" fill="#000" text-anchor="end" textLength="3.4" lengthAdjust="spacingAndGlyphs" stroke="#000" stroke-width="0.25">1</text>
<line x1="160.9" y1="346.1" x2="162.7" y2="346.1" stroke="#333" stroke-width="0.9"/>
<line x1="161.7" y1="340.2" x2="162.7" y2="340.2" stroke="#777" stroke-width="0.8"/>
<text x="160.1" y="337.0" font-size="6.60" font-weight="bold" fill="#000" text-anchor="end" textLength="3.4" lengthAdjust="spacingAndGlyphs" stroke="#000" stroke-width="0.25">2</text>
<line x1="160.9" y1="334.4" x2="162.7" y2="334.4" stroke="#333" stroke-width="0.9"/>
<line x1="161.7" y1="328.5" x2="162.7" y2="328.5" stroke="#777" stroke-width="0.8"/>
<text x="160.1" y="325.2" font-size="6.60" font-weight="bold" fill="#000" text-anchor="end" textLength="3.4" lengthAdjust="spacingAndGlyphs" stroke="#000" stroke-width="0.25">3</text>
<line x1="160.9" y1="322.6" x2="162.7" y2="322.6" stroke="#333" stroke-width="0.9"/>
<line x1="161.7" y1="316.7" x2="162.7" y2="316.7" stroke="#777" stroke-width="0.8"/>
<text x="160.1" y="313.5" font-size="6.60" font-weight="bold" fill="#000" text-anchor="end" textLength="3.4" lengthAdjust="spacingAndGlyphs" stroke="#000" stroke-width="0.25">4</text>
<line x1="160.9" y1="310.9" x2="162.7" y2="310.9" stroke="#333" stroke-width="0.9"/>
<line x1="161.7" y1="305.0" x2="162.7" y2="305.0" stroke="#777" stroke-width="0.8"/>
<text x="160.1" y="301.7" font-size="6.60" font-weight="bold" fill="#000" text-anchor="end" textLength="3.4" lengthAdjust="spacingAndGlyphs" stroke="#000" stroke-width="0.25">5</text>
<line x1="160.9" y1="299.1" x2="162.7" y2="299.1" stroke="#333" stroke-width="0.9"/>
<line x1="165.8" y1="350.1" x2="165.8" y2="351.3" stroke="#888" stroke-width="0.8"/>
<line x1="175.2" y1="350.1" x2="175.2" y2="351.3" stroke="#888" stroke-width="0.8"/>
<line x1="184.6" y1="350.1" x2="184.6" y2="351.3" stroke="#888" stroke-width="0.8"/>
<line x1="193.9" y1="350.1" x2="193.9" y2="351.3" stroke="#888" stroke-width="0.8"/>
<line x1="203.3" y1="350.1" x2="203.3" y2="351.3" stroke="#888" stroke-width="0.8"/>
<line x1="212.7" y1="350.1" x2="212.7" y2="351.3" stroke="#888" stroke-width="0.8"/>
<line x1="222.1" y1="350.1" x2="222.1" y2="351.3" stroke="#888" stroke-width="0.8"/>
<line x1="231.4" y1="350.1" x2="231.4" y2="351.3" stroke="#888" stroke-width="0.8"/>
<line x1="240.8" y1="350.1" x2="240.8" y2="351.3" stroke="#888" stroke-width="0.8"/>
<text x="165.8" y="358.5" font-size="7.00" font-weight="bold" fill="#000" text-anchor="middle" stroke="#000" stroke-width="0.25">0</text>
<text x="175.2" y="358.5" font-size="7.00" font-weight="bold" fill="#000" text-anchor="middle" stroke="#000" stroke-width="0.25">30</text>
<text x="193.9" y="358.5" font-size="7.00" font-weight="bold" fill="#000" text-anchor="middle" stroke="#000" stroke-width="0.25">90</text>
<text x="240.8" y="358.5" font-size="7.00" font-weight="bold" fill="#000" text-anchor="middle" stroke="#000" stroke-width="0.25">240</text>
<text x="202.0" y="368.6" font-size="7.80" font-weight="bold" fill="#000" text-anchor="middle" textLength="37.5" lengthAdjust="spacingAndGlyphs" stroke="#000" stroke-width="0.25">Time (sec.)</text>
<path d="M177.7,348.0L178.5,348.0L179.2,348.0L180.0,348.0L180.8,348.0L181.6,348.0L182.4,348.0L183.1,348.0L183.9,348.0L184.7,348.0L185.5,348.0L186.3,348.0L187.1,348.0L187.8,348.0L188.6,348.0L189.4,348.0L190.2,348.0L191.0,348.0L191.7,348.0L192.5,348.0L193.3,348.0L194.1,348.0L194.9,348.0L195.6,348.0L196.4,348.0L197.2,348.0L198.0,348.0L198.8,348.0L199.6,348.0L200.3,348.0L201.1,348.0L201.9,348.0L202.7,348.0L203.5,348.0L204.2,348.0L205.0,348.0L205.8,348.0L206.6,348.0L207.4,348.0L208.1,348.0L208.9,348.0L209.7,348.0L210.5,348.0L211.3,348.0L212.1,348.0L212.8,348.0L213.6,348.0L214.4,348.0L215.2,348.0L216.0,348.0L216.7,348.0L217.5,348.0L218.3,348.0L219.1,348.0L219.9,348.0L220.6,348.0L221.4,348.0L222.2,348.0L223.0,348.0L223.8,348.0L224.6,348.0L225.3,348.0L226.1,348.0L226.9,348.0L227.7,348.0L228.5,348.0L229.2,348.0L230.0,348.0L230.8,348.0L231.6,348.0L232.4,348.0L233.1,348.0L233.9,348.0L234.7,348.0L235.5,348.0L236.3,348.0L237.1,348.0L237.8,348.0L238.6,348.0L239.4,348.0L240.2,348.0L240.8,348.0" fill="none" stroke="#2a2a2a" stroke-width="1.30" stroke-linejoin="round" stroke-linecap="round"/>
<path d="M165.8,345.9L166.6,345.9L167.4,345.9L168.1,345.9L168.9,345.9L169.7,345.9L170.5,345.9L171.3,345.9L172.1,345.9L172.8,345.9L173.6,345.9L174.4,345.9L174.6,345.9" fill="none" stroke="#3a7ab0" stroke-width="2.20" stroke-linejoin="round" stroke-linecap="butt"/>
<path d="M183.0,346.5L183.8,346.5L184.6,346.5L185.3,346.5L186.1,346.5L186.9,346.5L187.7,346.5L188.5,346.5L189.2,346.5L190.0,346.5L190.8,346.5L191.6,346.5L192.4,346.5L193.1,346.5L193.9,346.5L194.7,346.5L195.5,346.5L196.3,346.5L197.1,346.5L197.8,346.5L198.6,346.5L199.4,346.5L200.2,346.5L201.0,346.5L201.7,346.5L202.5,346.5L203.3,346.5L204.1,346.5L204.9,346.5L205.6,346.5L206.4,346.5L207.2,346.5L208.0,346.6L208.8,346.6L209.6,346.6L210.3,346.6L211.1,346.6L211.9,346.6L212.7,346.6L213.5,346.6L214.2,346.6L215.0,346.6L215.8,346.6L216.6,346.6L217.4,346.6L218.1,346.6L218.9,346.6L219.7,346.6L220.5,346.6L221.3,346.6L222.1,346.6L222.8,346.6L223.6,346.6L224.4,346.6L225.2,346.6L226.0,346.6L226.7,346.6L227.5,346.6L228.3,346.6L229.1,346.6L229.9,346.6L230.6,346.6L231.4,346.6L232.2,346.6L233.0,346.6L233.8,346.6L234.6,346.6L235.3,346.6L236.1,346.6L236.9,346.6L237.7,346.6L238.5,346.6L239.2,346.6L240.0,346.6L240.8,346.6" fill="none" stroke="#a2dca2" stroke-width="3.00" stroke-linejoin="round" stroke-linecap="butt"/>
<path d="M177.7,346.2L178.5,346.3L179.2,346.4L180.0,346.3L180.8,346.3L181.6,346.3L182.4,346.2L183.1,346.2L183.9,346.3L184.7,346.2L185.5,346.0L186.3,345.9L187.1,345.7L187.8,345.5L188.6,345.3L189.4,345.1L190.2,344.8L191.0,344.6L191.7,344.3L192.5,344.1L193.3,343.8L194.1,343.6L194.9,343.3L195.6,343.0L196.4,342.7L197.2,342.5L198.0,342.3L198.8,342.1L199.6,342.0L200.3,341.9L201.1,341.9L201.9,341.9L202.7,341.9L203.5,341.7L204.2,341.6L205.0,341.5L205.8,341.5L206.6,341.5L207.4,341.6L208.1,341.5L208.9,341.6L209.7,341.7L210.5,341.7L211.3,341.8L212.1,341.8L212.8,341.8L213.6,341.7L214.4,341.8L215.2,342.0L216.0,342.0L216.7,342.1L217.5,342.2L218.3,342.3L219.1,342.4L219.9,342.6L220.6,342.6L221.4,342.6L222.2,342.6L223.0,342.7L223.8,342.7L224.6,342.9L225.3,343.0L226.1,343.0L226.9,343.0L227.7,343.1L228.5,343.1L229.2,343.1L230.0,343.2L230.8,343.2L231.6,343.2L232.4,343.3L233.1,343.4L233.9,343.5L234.7,343.6L235.5,343.6L236.3,343.6L237.1,343.6L237.8,343.7L238.6,343.7L239.4,343.7L240.2,343.8L240.8,343.9" fill="none" stroke="#4349c2" stroke-width="1.20" stroke-linejoin="round" stroke-linecap="round"/>
<path d="M177.7,346.4L178.5,346.5L179.2,346.5L180.0,346.6L180.8,346.6L181.6,346.4L182.4,346.2L183.1,346.2L183.9,346.1L184.7,345.2L185.5,343.4L186.3,341.4L187.1,339.4L187.8,336.5L188.6,332.8L189.4,329.0L190.2,326.0L191.0,323.3L191.7,320.6L192.5,319.3L193.3,318.7L194.1,318.1L194.9,317.2L195.6,316.3L196.4,315.4L197.2,314.4L198.0,314.7L198.8,315.4L199.6,316.0L200.3,315.7L201.1,315.5L201.9,315.2L202.7,315.0L203.5,314.8L204.2,314.9L205.0,314.9L205.8,315.1L206.6,315.2L207.4,315.0L208.1,314.8L208.9,314.6L209.7,315.8L210.5,317.2L211.3,318.7L212.1,318.8L212.8,318.8L213.6,318.8L214.4,318.8L215.2,318.8L216.0,319.1L216.7,319.6L217.5,320.0L218.3,320.4L219.1,320.9L219.9,321.2L220.6,321.6L221.4,322.1L222.2,322.3L223.0,322.5L223.8,323.0L224.6,323.5L225.3,323.9L226.1,324.5L226.9,324.9L227.7,325.1L228.5,325.5L229.2,326.0L230.0,326.3L230.8,326.6L231.6,327.1L232.4,327.4L233.1,327.8L233.9,328.4L234.7,329.0L235.5,329.3L236.3,329.7L237.1,330.0L237.8,330.3L238.6,330.8L239.4,331.4L240.2,331.6L240.8,331.7" fill="none" stroke="#cc3a48" stroke-width="1.35" stroke-linejoin="round" stroke-linecap="round" stroke-opacity="0.88"/>
<text x="251.0" y="348.7" font-size="6.60" font-weight="bold" fill="#000" text-anchor="end" textLength="3.4" lengthAdjust="spacingAndGlyphs" stroke="#000" stroke-width="0.25">1</text>
<line x1="251.8" y1="346.1" x2="253.6" y2="346.1" stroke="#333" stroke-width="0.9"/>
<line x1="252.6" y1="340.2" x2="253.6" y2="340.2" stroke="#777" stroke-width="0.8"/>
<text x="251.0" y="337.0" font-size="6.60" font-weight="bold" fill="#000" text-anchor="end" textLength="3.4" lengthAdjust="spacingAndGlyphs" stroke="#000" stroke-width="0.25">2</text>
<line x1="251.8" y1="334.4" x2="253.6" y2="334.4" stroke="#333" stroke-width="0.9"/>
<line x1="252.6" y1="328.5" x2="253.6" y2="328.5" stroke="#777" stroke-width="0.8"/>
<text x="251.0" y="325.2" font-size="6.60" font-weight="bold" fill="#000" text-anchor="end" textLength="3.4" lengthAdjust="spacingAndGlyphs" stroke="#000" stroke-width="0.25">3</text>
<line x1="251.8" y1="322.6" x2="253.6" y2="322.6" stroke="#333" stroke-width="0.9"/>
<line x1="252.6" y1="316.7" x2="253.6" y2="316.7" stroke="#777" stroke-width="0.8"/>
<text x="251.0" y="313.5" font-size="6.60" font-weight="bold" fill="#000" text-anchor="end" textLength="3.4" lengthAdjust="spacingAndGlyphs" stroke="#000" stroke-width="0.25">4</text>
<line x1="251.8" y1="310.9" x2="253.6" y2="310.9" stroke="#333" stroke-width="0.9"/>
<line x1="252.6" y1="305.0" x2="253.6" y2="305.0" stroke="#777" stroke-width="0.8"/>
<text x="251.0" y="301.7" font-size="6.60" font-weight="bold" fill="#000" text-anchor="end" textLength="3.4" lengthAdjust="spacingAndGlyphs" stroke="#000" stroke-width="0.25">5</text>
<line x1="251.8" y1="299.1" x2="253.6" y2="299.1" stroke="#333" stroke-width="0.9"/>
<line x1="256.7" y1="350.1" x2="256.7" y2="351.3" stroke="#888" stroke-width="0.8"/>
<line x1="266.1" y1="350.1" x2="266.1" y2="351.3" stroke="#888" stroke-width="0.8"/>
<line x1="275.4" y1="350.1" x2="275.4" y2="351.3" stroke="#888" stroke-width="0.8"/>
<line x1="284.8" y1="350.1" x2="284.8" y2="351.3" stroke="#888" stroke-width="0.8"/>
<line x1="294.2" y1="350.1" x2="294.2" y2="351.3" stroke="#888" stroke-width="0.8"/>
<line x1="303.6" y1="350.1" x2="303.6" y2="351.3" stroke="#888" stroke-width="0.8"/>
<line x1="312.9" y1="350.1" x2="312.9" y2="351.3" stroke="#888" stroke-width="0.8"/>
<line x1="322.3" y1="350.1" x2="322.3" y2="351.3" stroke="#888" stroke-width="0.8"/>
<line x1="331.7" y1="350.1" x2="331.7" y2="351.3" stroke="#888" stroke-width="0.8"/>
<text x="256.7" y="358.5" font-size="7.00" font-weight="bold" fill="#000" text-anchor="middle" stroke="#000" stroke-width="0.25">0</text>
<text x="266.1" y="358.5" font-size="7.00" font-weight="bold" fill="#000" text-anchor="middle" stroke="#000" stroke-width="0.25">30</text>
<text x="284.8" y="358.5" font-size="7.00" font-weight="bold" fill="#000" text-anchor="middle" stroke="#000" stroke-width="0.25">90</text>
<text x="331.7" y="358.5" font-size="7.00" font-weight="bold" fill="#000" text-anchor="middle" stroke="#000" stroke-width="0.25">240</text>
<text x="292.9" y="368.6" font-size="7.80" font-weight="bold" fill="#000" text-anchor="middle" textLength="37.5" lengthAdjust="spacingAndGlyphs" stroke="#000" stroke-width="0.25">Time (sec.)</text>
<path d="M256.7,346.5L257.5,346.5L258.3,346.5L259.0,346.5L259.8,346.5L260.6,346.5L261.4,346.5L262.2,346.5L262.9,346.5L263.7,346.5L264.5,346.5L265.3,346.5L265.4,346.5" fill="none" stroke="#4a3a2a" stroke-width="1.50" stroke-linejoin="round" stroke-linecap="butt"/>
<path d="M268.6,347.2L269.4,347.2L270.1,347.2L270.9,347.2L271.7,347.2L272.5,347.2L273.3,347.2L274.0,347.2L274.8,347.2L275.6,347.2L276.4,347.2L277.2,347.2L277.9,347.2L278.7,347.2L279.5,347.2L280.3,347.2L281.1,347.2L281.9,347.2L282.6,347.2L283.4,347.2L284.2,347.2L285.0,347.2L285.8,347.2L286.5,347.2L287.3,347.2L288.1,347.3L288.9,347.3L289.7,347.3L290.4,347.3L291.2,347.3L292.0,347.3L292.8,347.3L293.6,347.3L294.4,347.3L295.1,347.3L295.9,347.3L296.7,347.3L297.5,347.3L298.3,347.3L299.0,347.3L299.8,347.3L300.6,347.3L301.4,347.3L302.2,347.3L302.9,347.3L303.7,347.3L304.5,347.3L305.3,347.3L306.1,347.3L306.9,347.3L307.6,347.3L308.4,347.3L309.2,347.3L310.0,347.3L310.8,347.3L311.5,347.3L312.3,347.3L313.1,347.3L313.9,347.3L314.7,347.3L315.4,347.3L316.2,347.3L317.0,347.3L317.8,347.3L318.6,347.3L319.4,347.3L320.1,347.3L320.9,347.3L321.7,347.3L322.5,347.3L323.3,347.3L324.0,347.3L324.8,347.3L325.6,347.3L326.4,347.3L327.2,347.3L327.9,347.3L328.7,347.3L329.5,347.3L330.3,347.3L331.1,347.3L331.7,347.3" fill="none" stroke="#4a3a2a" stroke-width="1.50" stroke-linejoin="round" stroke-linecap="butt"/>
<path d="M268.6,347.0L269.4,347.0L270.1,347.0L270.9,347.0L271.7,347.0L272.5,347.0L273.3,347.0L274.0,347.0L274.8,347.0L275.6,347.0L276.4,347.0L277.2,347.0L277.9,347.0L278.7,347.0L279.5,347.0L280.3,347.0L281.1,347.0L281.9,347.0L282.6,347.0L283.4,347.0L284.2,347.0L285.0,347.0L285.8,347.0L286.5,347.0L287.3,347.0L288.1,347.0L288.9,347.0L289.7,347.0L290.4,347.0L291.2,347.0L292.0,347.0L292.8,347.0L293.6,347.0L294.4,347.0L295.1,347.0L295.9,347.0L296.7,347.0L297.5,347.0L298.3,347.0L299.0,347.0L299.8,347.0L300.6,347.0L301.4,347.0L302.2,347.0L302.9,347.0L303.7,347.0L304.5,347.0L305.3,347.0L306.1,347.0L306.9,347.0L307.6,347.0L308.4,347.1L309.2,347.1L310.0,347.1L310.8,347.1L311.5,347.1L312.3,347.1L313.1,347.1L313.9,347.1L314.7,347.1L315.4,347.1L316.2,347.1L317.0,347.1L317.8,347.1L318.6,347.1L319.4,347.1L320.1,347.1L320.9,347.1L321.7,347.1L322.5,347.1L323.3,347.1L324.0,347.1L324.8,347.1L325.6,347.1L326.4,347.1L327.2,347.1L327.9,347.1L328.7,347.1L329.5,347.1L330.3,347.1L331.1,347.1L331.7,347.1" fill="none" stroke="#4349c2" stroke-width="1.10" stroke-linejoin="round" stroke-linecap="round"/>
<path d="M268.6,346.5L269.4,346.5L270.1,346.5L270.9,346.6L271.7,346.6L272.5,346.6L273.3,346.5L274.0,346.4L274.8,346.4L275.6,346.5L276.4,346.2L277.2,345.6L277.9,345.0L278.7,344.4L279.5,344.2L280.3,344.0L281.1,343.8L281.9,343.5L282.6,343.2L283.4,343.0L284.2,342.8L285.0,342.7L285.8,342.5L286.5,342.2L287.3,342.0L288.1,342.2L288.9,342.3L289.7,342.5L290.4,342.7L291.2,342.8L292.0,342.8L292.8,342.9L293.6,343.0L294.4,343.1L295.1,343.1L295.9,343.1L296.7,343.0L297.5,343.0L298.3,343.1L299.0,343.1L299.8,343.1L300.6,343.1L301.4,343.2L302.2,343.2L302.9,343.3L303.7,343.3L304.5,343.2L305.3,343.2L306.1,343.2L306.9,343.2L307.6,343.3L308.4,343.4L309.2,343.4L310.0,343.5L310.8,343.5L311.5,343.6L312.3,343.6L313.1,343.6L313.9,343.6L314.7,343.6L315.4,343.7L316.2,343.8L317.0,343.9L317.8,344.0L318.6,344.0L319.4,344.0L320.1,344.0L320.9,344.1L321.7,344.1L322.5,344.1L323.3,344.2L324.0,344.3L324.8,344.3L325.6,344.5L326.4,344.5L327.2,344.5L327.9,344.5L328.7,344.5L329.5,344.6L330.3,344.9L331.1,345.1L331.7,345.3" fill="none" stroke="#cc3a48" stroke-width="1.00" stroke-linejoin="round" stroke-linecap="round" stroke-opacity="0.88"/>
<text x="342.1" y="348.7" font-size="6.60" font-weight="bold" fill="#000" text-anchor="end" textLength="3.4" lengthAdjust="spacingAndGlyphs" stroke="#000" stroke-width="0.25">1</text>
<line x1="342.9" y1="346.1" x2="344.7" y2="346.1" stroke="#333" stroke-width="0.9"/>
<line x1="343.7" y1="340.2" x2="344.7" y2="340.2" stroke="#777" stroke-width="0.8"/>
<text x="342.1" y="337.0" font-size="6.60" font-weight="bold" fill="#000" text-anchor="end" textLength="3.4" lengthAdjust="spacingAndGlyphs" stroke="#000" stroke-width="0.25">2</text>
<line x1="342.9" y1="334.4" x2="344.7" y2="334.4" stroke="#333" stroke-width="0.9"/>
<line x1="343.7" y1="328.5" x2="344.7" y2="328.5" stroke="#777" stroke-width="0.8"/>
<text x="342.1" y="325.2" font-size="6.60" font-weight="bold" fill="#000" text-anchor="end" textLength="3.4" lengthAdjust="spacingAndGlyphs" stroke="#000" stroke-width="0.25">3</text>
<line x1="342.9" y1="322.6" x2="344.7" y2="322.6" stroke="#333" stroke-width="0.9"/>
<line x1="343.7" y1="316.7" x2="344.7" y2="316.7" stroke="#777" stroke-width="0.8"/>
<text x="342.1" y="313.5" font-size="6.60" font-weight="bold" fill="#000" text-anchor="end" textLength="3.4" lengthAdjust="spacingAndGlyphs" stroke="#000" stroke-width="0.25">4</text>
<line x1="342.9" y1="310.9" x2="344.7" y2="310.9" stroke="#333" stroke-width="0.9"/>
<line x1="343.7" y1="305.0" x2="344.7" y2="305.0" stroke="#777" stroke-width="0.8"/>
<text x="342.1" y="301.7" font-size="6.60" font-weight="bold" fill="#000" text-anchor="end" textLength="3.4" lengthAdjust="spacingAndGlyphs" stroke="#000" stroke-width="0.25">5</text>
<line x1="342.9" y1="299.1" x2="344.7" y2="299.1" stroke="#333" stroke-width="0.9"/>
<line x1="347.8" y1="350.1" x2="347.8" y2="351.3" stroke="#888" stroke-width="0.8"/>
<line x1="357.2" y1="350.1" x2="357.2" y2="351.3" stroke="#888" stroke-width="0.8"/>
<line x1="366.6" y1="350.1" x2="366.6" y2="351.3" stroke="#888" stroke-width="0.8"/>
<line x1="375.9" y1="350.1" x2="375.9" y2="351.3" stroke="#888" stroke-width="0.8"/>
<line x1="385.3" y1="350.1" x2="385.3" y2="351.3" stroke="#888" stroke-width="0.8"/>
<line x1="394.7" y1="350.1" x2="394.7" y2="351.3" stroke="#888" stroke-width="0.8"/>
<line x1="404.1" y1="350.1" x2="404.1" y2="351.3" stroke="#888" stroke-width="0.8"/>
<line x1="413.4" y1="350.1" x2="413.4" y2="351.3" stroke="#888" stroke-width="0.8"/>
<line x1="422.8" y1="350.1" x2="422.8" y2="351.3" stroke="#888" stroke-width="0.8"/>
<text x="347.8" y="358.5" font-size="7.00" font-weight="bold" fill="#000" text-anchor="middle" stroke="#000" stroke-width="0.25">0</text>
<text x="357.2" y="358.5" font-size="7.00" font-weight="bold" fill="#000" text-anchor="middle" stroke="#000" stroke-width="0.25">30</text>
<text x="375.9" y="358.5" font-size="7.00" font-weight="bold" fill="#000" text-anchor="middle" stroke="#000" stroke-width="0.25">90</text>
<text x="422.8" y="358.5" font-size="7.00" font-weight="bold" fill="#000" text-anchor="middle" stroke="#000" stroke-width="0.25">240</text>
<text x="384.0" y="368.6" font-size="7.80" font-weight="bold" fill="#000" text-anchor="middle" textLength="37.5" lengthAdjust="spacingAndGlyphs" stroke="#000" stroke-width="0.25">Time (sec.)</text>
<path d="M359.7,347.5L360.5,347.5L361.2,347.5L362.0,347.5L362.8,347.5L363.6,347.5L364.4,347.5L365.1,347.5L365.9,347.5L366.7,347.5L367.5,347.5L368.3,347.5L369.1,347.5L369.8,347.5L370.6,347.5L371.4,347.5L372.2,347.5L373.0,347.5L373.7,347.5L374.5,347.5L375.3,347.5L376.1,347.5L376.9,347.5L377.6,347.5L378.4,347.5L379.2,347.5L380.0,347.5L380.8,347.5L381.6,347.5L382.3,347.5L383.1,347.5L383.9,347.5L384.7,347.5L385.5,347.5L386.2,347.5L387.0,347.5L387.8,347.5L388.6,347.5L389.4,347.5L390.1,347.5L390.9,347.5L391.7,347.5L392.5,347.5L393.3,347.5L394.1,347.5L394.8,347.5L395.6,347.5L396.4,347.5L397.2,347.5L398.0,347.5L398.7,347.5L399.5,347.5L400.3,347.5L401.1,347.5L401.9,347.5L402.6,347.5L403.4,347.5L404.2,347.5L405.0,347.5L405.8,347.5L406.6,347.5L407.3,347.5L408.1,347.5L408.9,347.5L409.7,347.5L410.5,347.5L411.2,347.5L412.0,347.5L412.8,347.5L413.6,347.5L414.4,347.5L415.1,347.5L415.9,347.5L416.7,347.5L417.5,347.5L418.3,347.5L419.1,347.5L419.8,347.5L420.6,347.5L421.4,347.5L422.2,347.5L422.8,347.5" fill="none" stroke="#2a2a2a" stroke-width="1.00" stroke-linejoin="round" stroke-linecap="round"/>
<path d="M347.8,346.3L348.6,346.3L349.4,346.3L350.1,346.3L350.9,346.3L351.7,346.3L352.5,346.3L353.3,346.3L354.1,346.3L354.8,346.3L355.6,346.3L356.4,346.3L356.6,346.3" fill="none" stroke="#b08a4a" stroke-width="2.60" stroke-linejoin="round" stroke-linecap="butt"/>
<path d="M359.7,346.7L360.5,346.7L361.2,346.7L362.0,346.7L362.8,346.7L363.6,346.7L364.4,346.6L365.1,346.6L365.9,346.6L366.7,346.6L367.5,346.6L368.3,346.6L369.1,346.5L369.8,346.5L370.6,346.5L371.4,346.5L372.2,346.4L373.0,346.4L373.7,346.3L374.5,346.3L375.3,346.3L376.1,346.2L376.9,346.2L377.6,346.2L378.4,346.1L379.2,346.1L380.0,346.1L380.8,346.0L381.6,346.0L382.3,345.9L383.1,345.9L383.9,345.9L384.7,345.9L385.5,345.9L386.2,346.0L387.0,346.0L387.8,346.0L388.6,346.0L389.4,346.0L390.1,346.0L390.9,346.0L391.7,346.0L392.5,346.0L393.3,346.1L394.1,346.1L394.8,346.1L395.6,346.1L396.4,346.1L397.2,346.1L398.0,346.1L398.7,346.1L399.5,346.2L400.3,346.2L401.1,346.2L401.9,346.2L402.6,346.2L403.4,346.2L404.2,346.2L405.0,346.2L405.8,346.2L406.6,346.3L407.3,346.3L408.1,346.3L408.9,346.3L409.7,346.3L410.5,346.3L411.2,346.3L412.0,346.3L412.8,346.4L413.6,346.4L414.4,346.4L415.1,346.4L415.9,346.4L416.7,346.4L417.5,346.4L418.3,346.4L419.1,346.4L419.8,346.5L420.6,346.5L421.4,346.5L422.2,346.5L422.8,346.5" fill="none" stroke="#46c846" stroke-width="1.40" stroke-linejoin="round" stroke-linecap="round"/>
<path d="M359.7,347.5L360.5,347.6L361.2,347.5L362.0,347.5L362.8,347.5L363.6,347.5L364.4,347.5L365.1,347.6L365.9,347.7L366.7,347.6L367.5,347.7L368.3,347.6L369.1,347.4L369.8,347.2L370.6,347.0L371.4,346.7L372.2,346.5L373.0,346.5L373.7,346.3L374.5,346.1L375.3,346.0L376.1,345.8L376.9,345.6L377.6,345.4L378.4,345.2L379.2,344.7L380.0,344.3L380.8,344.0L381.6,343.7L382.3,343.3L383.1,343.0L383.9,342.9L384.7,342.7L385.5,342.7L386.2,342.7L387.0,342.6L387.8,342.5L388.6,342.5L389.4,342.4L390.1,342.4L390.9,342.5L391.7,342.5L392.5,342.4L393.3,342.3L394.1,342.2L394.8,342.1L395.6,342.1L396.4,342.0L397.2,342.0L398.0,341.9L398.7,341.9L399.5,341.8L400.3,341.8L401.1,341.7L401.9,341.6L402.6,341.5L403.4,341.4L404.2,341.5L405.0,341.6L405.8,341.7L406.6,341.8L407.3,341.8L408.1,341.8L408.9,341.9L409.7,341.9L410.5,341.9L411.2,341.9L412.0,342.0L412.8,342.0L413.6,342.2L414.4,342.3L415.1,342.3L415.9,342.3L416.7,342.4L417.5,342.4L418.3,342.4L419.1,342.5L419.8,342.6L420.6,342.6L421.4,342.7L422.2,342.8L422.8,342.9" fill="none" stroke="#4349c2" stroke-width="1.20" stroke-linejoin="round" stroke-linecap="round"/>
<path d="M359.7,346.5L360.5,346.6L361.2,346.6L362.0,346.5L362.8,346.5L363.6,346.4L364.4,346.3L365.1,346.2L365.9,345.8L366.7,345.2L367.5,344.7L368.3,344.0L369.1,342.7L369.8,341.5L370.6,340.4L371.4,339.2L372.2,338.0L373.0,336.7L373.7,335.3L374.5,333.9L375.3,332.7L376.1,331.5L376.9,330.0L377.6,328.5L378.4,327.1L379.2,325.6L380.0,324.3L380.8,323.6L381.6,322.7L382.3,321.8L383.1,321.0L383.9,320.4L384.7,320.1L385.5,319.9L386.2,319.6L387.0,319.2L387.8,318.9L388.6,319.2L389.4,319.3L390.1,319.6L390.9,320.1L391.7,320.6L392.5,321.0L393.3,321.6L394.1,322.1L394.8,322.3L395.6,322.6L396.4,323.0L397.2,323.5L398.0,324.0L398.7,324.5L399.5,324.9L400.3,325.1L401.1,325.4L401.9,325.7L402.6,325.9L403.4,326.2L404.2,326.5L405.0,326.8L405.8,327.1L406.6,327.4L407.3,327.4L408.1,327.3L408.9,327.3L409.7,327.1L410.5,327.0L411.2,327.2L412.0,327.7L412.8,328.1L413.6,328.6L414.4,329.1L415.1,329.5L415.9,330.0L416.7,330.3L417.5,330.4L418.3,330.6L419.1,330.9L419.8,331.2L420.6,331.6L421.4,332.0L422.2,332.4L422.8,332.5" fill="none" stroke="#cc3a48" stroke-width="1.10" stroke-linejoin="round" stroke-linecap="round" stroke-opacity="0.88"/>
<text x="433.3" y="348.7" font-size="6.60" font-weight="bold" fill="#000" text-anchor="end" textLength="3.4" lengthAdjust="spacingAndGlyphs" stroke="#000" stroke-width="0.25">1</text>
<line x1="434.1" y1="346.1" x2="435.9" y2="346.1" stroke="#333" stroke-width="0.9"/>
<line x1="434.9" y1="340.2" x2="435.9" y2="340.2" stroke="#777" stroke-width="0.8"/>
<text x="433.3" y="337.0" font-size="6.60" font-weight="bold" fill="#000" text-anchor="end" textLength="3.4" lengthAdjust="spacingAndGlyphs" stroke="#000" stroke-width="0.25">2</text>
<line x1="434.1" y1="334.4" x2="435.9" y2="334.4" stroke="#333" stroke-width="0.9"/>
<line x1="434.9" y1="328.5" x2="435.9" y2="328.5" stroke="#777" stroke-width="0.8"/>
<text x="433.3" y="325.2" font-size="6.60" font-weight="bold" fill="#000" text-anchor="end" textLength="3.4" lengthAdjust="spacingAndGlyphs" stroke="#000" stroke-width="0.25">3</text>
<line x1="434.1" y1="322.6" x2="435.9" y2="322.6" stroke="#333" stroke-width="0.9"/>
<line x1="434.9" y1="316.7" x2="435.9" y2="316.7" stroke="#777" stroke-width="0.8"/>
<text x="433.3" y="313.5" font-size="6.60" font-weight="bold" fill="#000" text-anchor="end" textLength="3.4" lengthAdjust="spacingAndGlyphs" stroke="#000" stroke-width="0.25">4</text>
<line x1="434.1" y1="310.9" x2="435.9" y2="310.9" stroke="#333" stroke-width="0.9"/>
<line x1="434.9" y1="305.0" x2="435.9" y2="305.0" stroke="#777" stroke-width="0.8"/>
<text x="433.3" y="301.7" font-size="6.60" font-weight="bold" fill="#000" text-anchor="end" textLength="3.4" lengthAdjust="spacingAndGlyphs" stroke="#000" stroke-width="0.25">5</text>
<line x1="434.1" y1="299.1" x2="435.9" y2="299.1" stroke="#333" stroke-width="0.9"/>
<line x1="439.0" y1="350.1" x2="439.0" y2="351.3" stroke="#888" stroke-width="0.8"/>
<line x1="448.4" y1="350.1" x2="448.4" y2="351.3" stroke="#888" stroke-width="0.8"/>
<line x1="457.8" y1="350.1" x2="457.8" y2="351.3" stroke="#888" stroke-width="0.8"/>
<line x1="467.1" y1="350.1" x2="467.1" y2="351.3" stroke="#888" stroke-width="0.8"/>
<line x1="476.5" y1="350.1" x2="476.5" y2="351.3" stroke="#888" stroke-width="0.8"/>
<line x1="485.9" y1="350.1" x2="485.9" y2="351.3" stroke="#888" stroke-width="0.8"/>
<line x1="495.2" y1="350.1" x2="495.2" y2="351.3" stroke="#888" stroke-width="0.8"/>
<line x1="504.6" y1="350.1" x2="504.6" y2="351.3" stroke="#888" stroke-width="0.8"/>
<line x1="514.0" y1="350.1" x2="514.0" y2="351.3" stroke="#888" stroke-width="0.8"/>
<text x="439.0" y="358.5" font-size="7.00" font-weight="bold" fill="#000" text-anchor="middle" stroke="#000" stroke-width="0.25">0</text>
<text x="448.4" y="358.5" font-size="7.00" font-weight="bold" fill="#000" text-anchor="middle" stroke="#000" stroke-width="0.25">30</text>
<text x="467.1" y="358.5" font-size="7.00" font-weight="bold" fill="#000" text-anchor="middle" stroke="#000" stroke-width="0.25">90</text>
<text x="514.0" y="358.5" font-size="7.00" font-weight="bold" fill="#000" text-anchor="middle" stroke="#000" stroke-width="0.25">240</text>
<text x="475.2" y="368.6" font-size="7.80" font-weight="bold" fill="#000" text-anchor="middle" textLength="37.5" lengthAdjust="spacingAndGlyphs" stroke="#000" stroke-width="0.25">Time (sec.)</text>
<path d="M439.0,346.9L439.8,346.9L440.6,346.9L441.3,346.9L442.1,346.9L442.9,346.9L443.7,346.9L444.5,346.9L445.2,346.9L446.0,346.9L446.8,346.9L447.6,346.9L447.8,346.9" fill="none" stroke="#2a2a2a" stroke-width="1.20" stroke-linejoin="round" stroke-linecap="round"/>
<path d="M450.9,347.5L451.7,347.5L452.4,347.5L453.2,347.5L454.0,347.5L454.8,347.5L455.6,347.5L456.3,347.5L457.1,347.5L457.9,347.5L458.7,347.5L459.5,347.5L460.2,347.5L461.0,347.5L461.8,347.5L462.6,347.5L463.4,347.5L464.2,347.5L464.9,347.5L465.7,347.5L466.5,347.5L467.3,347.5L468.1,347.5L468.8,347.5L469.6,347.5L470.4,347.5L471.2,347.5L472.0,347.5L472.8,347.5L473.5,347.5L474.3,347.5L475.1,347.5L475.9,347.5L476.7,347.5L477.4,347.5L478.2,347.5L479.0,347.5L479.8,347.5L480.6,347.5L481.3,347.5L482.1,347.5L482.9,347.5L483.7,347.5L484.5,347.5L485.2,347.5L486.0,347.5L486.8,347.5L487.6,347.5L488.4,347.5L489.2,347.5L489.9,347.5L490.7,347.5L491.5,347.5L492.3,347.5L493.1,347.5L493.8,347.5L494.6,347.5L495.4,347.5L496.2,347.5L497.0,347.5L497.8,347.5L498.5,347.5L499.3,347.5L500.1,347.5L500.9,347.5L501.7,347.5L502.4,347.5L503.2,347.6L504.0,347.6L504.8,347.6L505.6,347.6L506.3,347.6L507.1,347.6L507.9,347.6L508.7,347.6L509.5,347.6L510.2,347.6L511.0,347.6L511.8,347.6L512.6,347.6L513.4,347.6L514.0,347.6" fill="none" stroke="#2a2a2a" stroke-width="1.20" stroke-linejoin="round" stroke-linecap="round"/>
<path d="M450.9,347.2L451.7,347.2L452.4,347.2L453.2,347.2L454.0,347.2L454.8,347.2L455.6,347.2L456.3,347.2L457.1,347.2L457.9,347.2L458.7,347.2L459.5,347.2L460.2,347.2L461.0,347.2L461.8,347.2L462.6,347.2L463.4,347.2L464.2,347.2L464.9,347.2L465.7,347.2L466.5,347.2L467.3,347.2L468.1,347.2L468.8,347.2L469.6,347.2L470.4,347.2L471.2,347.2L472.0,347.2L472.8,347.2L473.5,347.2L474.3,347.2L475.1,347.2L475.9,347.2L476.7,347.2L477.4,347.2L478.2,347.2L479.0,347.2L479.8,347.2L480.6,347.2L481.3,347.2L482.1,347.2L482.9,347.2L483.7,347.2L484.5,347.2L485.2,347.2L486.0,347.2L486.8,347.2L487.6,347.2L488.4,347.2L489.2,347.2L489.9,347.2L490.7,347.2L491.5,347.2L492.3,347.2L493.1,347.2L493.8,347.2L494.6,347.2L495.4,347.2L496.2,347.2L497.0,347.2L497.8,347.2L498.5,347.2L499.3,347.2L500.1,347.2L500.9,347.2L501.7,347.2L502.4,347.2L503.2,347.2L504.0,347.2L504.8,347.2L505.6,347.2L506.3,347.2L507.1,347.2L507.9,347.2L508.7,347.2L509.5,347.2L510.2,347.2L511.0,347.2L511.8,347.2L512.6,347.2L513.4,347.2L514.0,347.2" fill="none" stroke="#27308a" stroke-width="1.30" stroke-linejoin="round" stroke-linecap="round"/>
<path d="M439.0,346.6L439.8,346.6L440.6,346.5L441.3,346.5L442.1,346.4L442.9,346.4L443.7,346.5L444.5,346.5L445.2,346.5L446.0,346.5L446.8,346.5L447.6,346.5L447.8,346.5" fill="none" stroke="#cc3a48" stroke-width="1.10" stroke-linejoin="round" stroke-linecap="round" stroke-opacity="0.88"/>
<path d="M450.9,346.8L451.7,346.9L452.4,347.0L453.2,347.0L454.0,347.1L454.8,346.9L455.6,346.6L456.3,346.3L457.1,346.0L457.9,345.6L458.7,345.3L459.5,345.0L460.2,344.8L461.0,344.5L461.8,344.2L462.6,344.0L463.4,343.7L464.2,343.4L464.9,343.2L465.7,342.9L466.5,342.5L467.3,342.3L468.1,342.1L468.8,341.9L469.6,342.0L470.4,342.1L471.2,342.1L472.0,342.0L472.8,342.1L473.5,342.2L474.3,342.2L475.1,342.3L475.9,342.3L476.7,342.4L477.4,342.5L478.2,342.6L479.0,342.6L479.8,342.6L480.6,342.7L481.3,342.6L482.1,342.7L482.9,342.8L483.7,342.9L484.5,342.9L485.2,343.0L486.0,343.0L486.8,343.0L487.6,343.1L488.4,343.1L489.2,343.1L489.9,343.1L490.7,343.2L491.5,343.3L492.3,343.3L493.1,343.4L493.8,343.4L494.6,343.4L495.4,343.5L496.2,343.5L497.0,343.6L497.8,343.6L498.5,343.7L499.3,343.8L500.1,343.9L500.9,344.1L501.7,344.2L502.4,344.2L503.2,344.2L504.0,344.3L504.8,344.3L505.6,344.4L506.3,344.5L507.1,344.6L507.9,344.7L508.7,344.8L509.5,344.9L510.2,345.0L511.0,345.1L511.8,345.1L512.6,345.1L513.4,345.2L514.0,345.3" fill="none" stroke="#cc3a48" stroke-width="1.10" stroke-linejoin="round" stroke-linecap="round" stroke-opacity="0.88"/>
<text x="-0.6" y="392.9" font-size="16.40" font-weight="bold" fill="#000" text-anchor="start" stroke="#000" stroke-width="0.25">B</text>
<text x="34.0" y="399.3" font-size="8.60" font-weight="bold" fill="#000" text-anchor="start" textLength="24.7" lengthAdjust="spacingAndGlyphs" stroke="#000" stroke-width="0.25">cIgG1</text>
<text x="34.0" y="408.2" font-size="8.60" font-weight="bold" fill="#000" text-anchor="start" textLength="22.3" lengthAdjust="spacingAndGlyphs" stroke="#000" stroke-width="0.25">CD16</text>
<text x="34.0" y="417.0" font-size="8.60" font-weight="bold" fill="#000" text-anchor="start" textLength="27.9" lengthAdjust="spacingAndGlyphs" stroke="#000" stroke-width="0.25">NKp46</text>
<text x="34.0" y="425.9" font-size="8.60" font-weight="bold" fill="#000" text-anchor="start" textLength="31.4" lengthAdjust="spacingAndGlyphs" stroke="#000" stroke-width="0.25">NKG2D</text>
<text x="34.0" y="434.8" font-size="8.60" font-weight="bold" fill="#000" text-anchor="start" textLength="18.0" lengthAdjust="spacingAndGlyphs" stroke="#000" stroke-width="0.25">2B4</text>
<text x="34.0" y="443.6" font-size="8.60" font-weight="bold" fill="#000" text-anchor="start" textLength="18.6" lengthAdjust="spacingAndGlyphs" stroke="#000" stroke-width="0.25">CD2</text>
<text x="34.0" y="452.5" font-size="8.60" font-weight="bold" fill="#000" text-anchor="start" textLength="25.0" lengthAdjust="spacingAndGlyphs" stroke="#000" stroke-width="0.25">DNAM</text>
<text x="34.0" y="461.4" font-size="8.60" font-weight="bold" fill="#000" text-anchor="start" textLength="22.3" lengthAdjust="spacingAndGlyphs" stroke="#000" stroke-width="0.25">CD56</text>
<line x1="78.8" y1="391.5" x2="78.8" y2="461.3" stroke="#bbb" stroke-width="0.6"/>
<line x1="90.1" y1="391.5" x2="90.1" y2="461.3" stroke="#bbb" stroke-width="0.6"/>
<line x1="101.4" y1="391.5" x2="101.4" y2="461.3" stroke="#bbb" stroke-width="0.6"/>
<line x1="112.7" y1="391.5" x2="112.7" y2="461.3" stroke="#bbb" stroke-width="0.6"/>
<line x1="124.0" y1="391.5" x2="124.0" y2="461.3" stroke="#bbb" stroke-width="0.6"/>
<rect x="67.5" y="402.4" width="20.1" height="7.2" fill="#cdcdcd" stroke="#4a4a4a" stroke-width="1.2"/>
<line x1="81.1" y1="406.0" x2="92.4" y2="406.0" stroke="#2a2a2a" stroke-width="1.1"/>
<line x1="81.1" y1="404.4" x2="81.1" y2="407.6" stroke="#222" stroke-width="0.9"/>
<line x1="92.4" y1="404.4" x2="92.4" y2="407.6" stroke="#222" stroke-width="0.9"/>
<rect x="67.5" y="410.8" width="5.7" height="7.2" fill="#cdcdcd" stroke="#4a4a4a" stroke-width="1.2"/>
<line x1="70.9" y1="414.4" x2="76.5" y2="414.4" stroke="#2a2a2a" stroke-width="1.1"/>
<line x1="70.9" y1="412.8" x2="70.9" y2="416.0" stroke="#222" stroke-width="0.9"/>
<line x1="76.5" y1="412.8" x2="76.5" y2="416.0" stroke="#222" stroke-width="0.9"/>
<rect x="67.5" y="419.2" width="0.5" height="7.2" fill="#cdcdcd" stroke="#4a4a4a" stroke-width="1.2"/>
<rect x="67.5" y="427.6" width="5.2" height="7.2" fill="#cdcdcd" stroke="#4a4a4a" stroke-width="1.2"/>
<line x1="70.9" y1="431.2" x2="74.8" y2="431.2" stroke="#2a2a2a" stroke-width="1.1"/>
<line x1="70.9" y1="429.6" x2="70.9" y2="432.8" stroke="#222" stroke-width="0.9"/>
<line x1="74.8" y1="429.6" x2="74.8" y2="432.8" stroke="#222" stroke-width="0.9"/>
<rect x="67.5" y="436.0" width="0.3" height="7.2" fill="#cdcdcd" stroke="#4a4a4a" stroke-width="1.2"/>
<rect x="67.5" y="444.4" width="2.3" height="7.2" fill="#cdcdcd" stroke="#4a4a4a" stroke-width="1.2"/>
<line x1="68.1" y1="448.0" x2="70.9" y2="448.0" stroke="#2a2a2a" stroke-width="1.1"/>
<line x1="68.1" y1="446.4" x2="68.1" y2="449.6" stroke="#222" stroke-width="0.9"/>
<line x1="70.9" y1="446.4" x2="70.9" y2="449.6" stroke="#222" stroke-width="0.9"/>
<rect x="67.5" y="452.8" width="0.3" height="7.2" fill="#cdcdcd" stroke="#4a4a4a" stroke-width="1.2"/>
<rect x="67.5" y="391.5" width="67.8" height="69.8" fill="none" stroke="#333" stroke-width="1.0"/>
<text x="67.5" y="470.0" font-size="7.40" font-weight="bold" fill="#000" text-anchor="middle" stroke="#000" stroke-width="0.25">1</text>
<text x="78.8" y="470.0" font-size="7.40" font-weight="bold" fill="#000" text-anchor="middle" stroke="#000" stroke-width="0.25">2</text>
<text x="90.1" y="470.0" font-size="7.40" font-weight="bold" fill="#000" text-anchor="middle" stroke="#000" stroke-width="0.25">3</text>
<text x="101.4" y="470.0" font-size="7.40" font-weight="bold" fill="#000" text-anchor="middle" stroke="#000" stroke-width="0.25">4</text>
<text x="112.7" y="470.0" font-size="7.40" font-weight="bold" fill="#000" text-anchor="middle" stroke="#000" stroke-width="0.25">5</text>
<text x="124.0" y="470.0" font-size="7.40" font-weight="bold" fill="#000" text-anchor="middle" stroke="#000" stroke-width="0.25">6</text>
<text x="135.3" y="470.0" font-size="7.40" font-weight="bold" fill="#000" text-anchor="middle" stroke="#000" stroke-width="0.25">7</text>
<line x1="153.8" y1="407.8" x2="153.8" y2="454.4" stroke="#bbb" stroke-width="0.6"/>
<line x1="165.2" y1="407.8" x2="165.2" y2="454.4" stroke="#bbb" stroke-width="0.6"/>
<line x1="176.6" y1="407.8" x2="176.6" y2="454.4" stroke="#bbb" stroke-width="0.6"/>
<line x1="187.9" y1="407.8" x2="187.9" y2="454.4" stroke="#bbb" stroke-width="0.6"/>
<line x1="199.3" y1="407.8" x2="199.3" y2="454.4" stroke="#bbb" stroke-width="0.6"/>
<rect x="142.4" y="410.3" width="24.1" height="7.6" fill="#cdcdcd" stroke="#4a4a4a" stroke-width="1.2"/>
<line x1="156.2" y1="414.1" x2="175.8" y2="414.1" stroke="#2a2a2a" stroke-width="1.1"/>
<line x1="156.2" y1="412.5" x2="156.2" y2="415.7" stroke="#222" stroke-width="0.9"/>
<line x1="175.8" y1="412.5" x2="175.8" y2="415.7" stroke="#222" stroke-width="0.9"/>
<rect x="142.4" y="419.1" width="37.2" height="7.6" fill="#cdcdcd" stroke="#4a4a4a" stroke-width="1.2"/>
<line x1="171.9" y1="422.9" x2="187.0" y2="422.9" stroke="#2a2a2a" stroke-width="1.1"/>
<line x1="171.9" y1="421.3" x2="171.9" y2="424.5" stroke="#222" stroke-width="0.9"/>
<line x1="187.0" y1="421.3" x2="187.0" y2="424.5" stroke="#222" stroke-width="0.9"/>
<rect x="142.4" y="427.9" width="51.5" height="7.6" fill="#cdcdcd" stroke="#4a4a4a" stroke-width="1.2"/>
<line x1="180.8" y1="431.7" x2="206.1" y2="431.7" stroke="#2a2a2a" stroke-width="1.1"/>
<line x1="180.8" y1="430.1" x2="180.8" y2="433.3" stroke="#222" stroke-width="0.9"/>
<line x1="206.1" y1="430.1" x2="206.1" y2="433.3" stroke="#222" stroke-width="0.9"/>
<rect x="142.4" y="436.7" width="36.4" height="7.6" fill="#cdcdcd" stroke="#4a4a4a" stroke-width="1.2"/>
<line x1="164.5" y1="440.5" x2="192.7" y2="440.5" stroke="#2a2a2a" stroke-width="1.1"/>
<line x1="164.5" y1="438.9" x2="164.5" y2="442.1" stroke="#222" stroke-width="0.9"/>
<line x1="192.7" y1="438.9" x2="192.7" y2="442.1" stroke="#222" stroke-width="0.9"/>
<rect x="142.4" y="445.5" width="50.3" height="7.6" fill="#cdcdcd" stroke="#4a4a4a" stroke-width="1.2"/>
<line x1="176.8" y1="449.3" x2="207.6" y2="449.3" stroke="#2a2a2a" stroke-width="1.1"/>
<line x1="176.8" y1="447.7" x2="176.8" y2="450.9" stroke="#222" stroke-width="0.9"/>
<line x1="207.6" y1="447.7" x2="207.6" y2="450.9" stroke="#222" stroke-width="0.9"/>
<rect x="142.4" y="407.8" width="68.3" height="46.6" fill="none" stroke="#333" stroke-width="1.0"/>
<text x="142.4" y="470.0" font-size="7.40" font-weight="bold" fill="#000" text-anchor="middle" stroke="#000" stroke-width="0.25">1</text>
<text x="153.8" y="470.0" font-size="7.40" font-weight="bold" fill="#000" text-anchor="middle" stroke="#000" stroke-width="0.25">2</text>
<text x="165.2" y="470.0" font-size="7.40" font-weight="bold" fill="#000" text-anchor="middle" stroke="#000" stroke-width="0.25">3</text>
<text x="176.6" y="470.0" font-size="7.40" font-weight="bold" fill="#000" text-anchor="middle" stroke="#000" stroke-width="0.25">4</text>
<text x="187.9" y="470.0" font-size="7.40" font-weight="bold" fill="#000" text-anchor="middle" stroke="#000" stroke-width="0.25">5</text>
<text x="199.3" y="470.0" font-size="7.40" font-weight="bold" fill="#000" text-anchor="middle" stroke="#000" stroke-width="0.25">6</text>
<text x="210.7" y="470.0" font-size="7.40" font-weight="bold" fill="#000" text-anchor="middle" stroke="#000" stroke-width="0.25">7</text>
<text x="165.3" y="387.6" font-size="10.00" font-weight="bold" fill="#000" text-anchor="start" textLength="22.6" lengthAdjust="spacingAndGlyphs" stroke="#000" stroke-width="0.25">CD16</text>
<line x1="228.5" y1="416.5" x2="228.5" y2="454.8" stroke="#bbb" stroke-width="0.6"/>
<line x1="239.6" y1="416.5" x2="239.6" y2="454.8" stroke="#bbb" stroke-width="0.6"/>
<line x1="250.8" y1="416.5" x2="250.8" y2="454.8" stroke="#bbb" stroke-width="0.6"/>
<line x1="261.9" y1="416.5" x2="261.9" y2="454.8" stroke="#bbb" stroke-width="0.6"/>
<line x1="273.1" y1="416.5" x2="273.1" y2="454.8" stroke="#bbb" stroke-width="0.6"/>
<rect x="217.3" y="419.0" width="29.5" height="7.7" fill="#cdcdcd" stroke="#4a4a4a" stroke-width="1.2"/>
<line x1="238.5" y1="422.9" x2="253.5" y2="422.9" stroke="#2a2a2a" stroke-width="1.1"/>
<line x1="238.5" y1="421.3" x2="238.5" y2="424.5" stroke="#222" stroke-width="0.9"/>
<line x1="253.5" y1="421.3" x2="253.5" y2="424.5" stroke="#222" stroke-width="0.9"/>
<rect x="217.3" y="427.9" width="52.9" height="7.7" fill="#cdcdcd" stroke="#4a4a4a" stroke-width="1.2"/>
<line x1="257.4" y1="431.8" x2="282.0" y2="431.8" stroke="#2a2a2a" stroke-width="1.1"/>
<line x1="257.4" y1="430.2" x2="257.4" y2="433.4" stroke="#222" stroke-width="0.9"/>
<line x1="282.0" y1="430.2" x2="282.0" y2="433.4" stroke="#222" stroke-width="0.9"/>
<rect x="217.3" y="436.9" width="45.7" height="7.7" fill="#cdcdcd" stroke="#4a4a4a" stroke-width="1.2"/>
<line x1="248.5" y1="440.7" x2="276.4" y2="440.7" stroke="#2a2a2a" stroke-width="1.1"/>
<line x1="248.5" y1="439.1" x2="248.5" y2="442.3" stroke="#222" stroke-width="0.9"/>
<line x1="276.4" y1="439.1" x2="276.4" y2="442.3" stroke="#222" stroke-width="0.9"/>
<rect x="217.3" y="445.8" width="42.4" height="7.7" fill="#cdcdcd" stroke="#4a4a4a" stroke-width="1.2"/>
<line x1="244.1" y1="449.6" x2="275.3" y2="449.6" stroke="#2a2a2a" stroke-width="1.1"/>
<line x1="244.1" y1="448.0" x2="244.1" y2="451.2" stroke="#222" stroke-width="0.9"/>
<line x1="275.3" y1="448.0" x2="275.3" y2="451.2" stroke="#222" stroke-width="0.9"/>
<rect x="217.3" y="416.5" width="66.9" height="38.3" fill="none" stroke="#333" stroke-width="1.0"/>
<text x="217.3" y="470.0" font-size="7.40" font-weight="bold" fill="#000" text-anchor="middle" stroke="#000" stroke-width="0.25">1</text>
<text x="228.5" y="470.0" font-size="7.40" font-weight="bold" fill="#000" text-anchor="middle" stroke="#000" stroke-width="0.25">2</text>
<text x="239.6" y="470.0" font-size="7.40" font-weight="bold" fill="#000" text-anchor="middle" stroke="#000" stroke-width="0.25">3</text>
<text x="250.8" y="470.0" font-size="7.40" font-weight="bold" fill="#000" text-anchor="middle" stroke="#000" stroke-width="0.25">4</text>
<text x="261.9" y="470.0" font-size="7.40" font-weight="bold" fill="#000" text-anchor="middle" stroke="#000" stroke-width="0.25">5</text>
<text x="273.1" y="470.0" font-size="7.40" font-weight="bold" fill="#000" text-anchor="middle" stroke="#000" stroke-width="0.25">6</text>
<text x="284.2" y="470.0" font-size="7.40" font-weight="bold" fill="#000" text-anchor="middle" stroke="#000" stroke-width="0.25">7</text>
<text x="237.2" y="387.6" font-size="10.00" font-weight="bold" fill="#000" text-anchor="start" textLength="28.6" lengthAdjust="spacingAndGlyphs" stroke="#000" stroke-width="0.25">NKp46</text>
<line x1="302.6" y1="425.3" x2="302.6" y2="454.4" stroke="#bbb" stroke-width="0.6"/>
<line x1="313.9" y1="425.3" x2="313.9" y2="454.4" stroke="#bbb" stroke-width="0.6"/>
<line x1="325.3" y1="425.3" x2="325.3" y2="454.4" stroke="#bbb" stroke-width="0.6"/>
<line x1="336.7" y1="425.3" x2="336.7" y2="454.4" stroke="#bbb" stroke-width="0.6"/>
<line x1="348.0" y1="425.3" x2="348.0" y2="454.4" stroke="#bbb" stroke-width="0.6"/>
<rect x="291.2" y="427.8" width="23.3" height="7.6" fill="#cdcdcd" stroke="#4a4a4a" stroke-width="1.2"/>
<line x1="308.2" y1="431.6" x2="320.2" y2="431.6" stroke="#2a2a2a" stroke-width="1.1"/>
<line x1="308.2" y1="430.0" x2="308.2" y2="433.2" stroke="#222" stroke-width="0.9"/>
<line x1="320.2" y1="430.0" x2="320.2" y2="433.2" stroke="#222" stroke-width="0.9"/>
<rect x="291.2" y="436.6" width="0.6" height="7.6" fill="#cdcdcd" stroke="#4a4a4a" stroke-width="1.2"/>
<rect x="291.2" y="445.5" width="4.0" height="7.6" fill="#cdcdcd" stroke="#4a4a4a" stroke-width="1.2"/>
<line x1="292.3" y1="449.3" x2="298.0" y2="449.3" stroke="#2a2a2a" stroke-width="1.1"/>
<line x1="292.3" y1="447.7" x2="292.3" y2="450.9" stroke="#222" stroke-width="0.9"/>
<line x1="298.0" y1="447.7" x2="298.0" y2="450.9" stroke="#222" stroke-width="0.9"/>
<rect x="291.2" y="425.3" width="68.2" height="29.1" fill="none" stroke="#333" stroke-width="1.0"/>
<text x="291.2" y="470.0" font-size="7.40" font-weight="bold" fill="#000" text-anchor="middle" stroke="#000" stroke-width="0.25">1</text>
<text x="302.6" y="470.0" font-size="7.40" font-weight="bold" fill="#000" text-anchor="middle" stroke="#000" stroke-width="0.25">2</text>
<text x="313.9" y="470.0" font-size="7.40" font-weight="bold" fill="#000" text-anchor="middle" stroke="#000" stroke-width="0.25">3</text>
<text x="325.3" y="470.0" font-size="7.40" font-weight="bold" fill="#000" text-anchor="middle" stroke="#000" stroke-width="0.25">4</text>
<text x="336.7" y="470.0" font-size="7.40" font-weight="bold" fill="#000" text-anchor="middle" stroke="#000" stroke-width="0.25">5</text>
<text x="348.0" y="470.0" font-size="7.40" font-weight="bold" fill="#000" text-anchor="middle" stroke="#000" stroke-width="0.25">6</text>
<text x="359.4" y="470.0" font-size="7.40" font-weight="bold" fill="#000" text-anchor="middle" stroke="#000" stroke-width="0.25">7</text>
<text x="310.2" y="387.6" font-size="10.00" font-weight="bold" fill="#000" text-anchor="start" textLength="31.3" lengthAdjust="spacingAndGlyphs" stroke="#000" stroke-width="0.25">NKG2D</text>
<line x1="379.6" y1="432.2" x2="379.6" y2="453.9" stroke="#bbb" stroke-width="0.6"/>
<line x1="391.0" y1="432.2" x2="391.0" y2="453.9" stroke="#bbb" stroke-width="0.6"/>
<line x1="402.4" y1="432.2" x2="402.4" y2="453.9" stroke="#bbb" stroke-width="0.6"/>
<line x1="413.8" y1="432.2" x2="413.8" y2="453.9" stroke="#bbb" stroke-width="0.6"/>
<line x1="425.2" y1="432.2" x2="425.2" y2="453.9" stroke="#bbb" stroke-width="0.6"/>
<rect x="368.2" y="434.7" width="5.1" height="8.3" fill="#cdcdcd" stroke="#4a4a4a" stroke-width="1.2"/>
<line x1="370.7" y1="438.9" x2="376.4" y2="438.9" stroke="#2a2a2a" stroke-width="1.1"/>
<line x1="370.7" y1="437.3" x2="370.7" y2="440.5" stroke="#222" stroke-width="0.9"/>
<line x1="376.4" y1="437.3" x2="376.4" y2="440.5" stroke="#222" stroke-width="0.9"/>
<rect x="368.2" y="444.2" width="23.4" height="8.3" fill="#cdcdcd" stroke="#4a4a4a" stroke-width="1.2"/>
<line x1="385.1" y1="448.4" x2="397.8" y2="448.4" stroke="#2a2a2a" stroke-width="1.1"/>
<line x1="385.1" y1="446.8" x2="385.1" y2="450.0" stroke="#222" stroke-width="0.9"/>
<line x1="397.8" y1="446.8" x2="397.8" y2="450.0" stroke="#222" stroke-width="0.9"/>
<rect x="368.2" y="432.2" width="68.4" height="21.7" fill="none" stroke="#333" stroke-width="1.0"/>
<text x="368.2" y="470.0" font-size="7.40" font-weight="bold" fill="#000" text-anchor="middle" stroke="#000" stroke-width="0.25">1</text>
<text x="379.6" y="470.0" font-size="7.40" font-weight="bold" fill="#000" text-anchor="middle" stroke="#000" stroke-width="0.25">2</text>
<text x="391.0" y="470.0" font-size="7.40" font-weight="bold" fill="#000" text-anchor="middle" stroke="#000" stroke-width="0.25">3</text>
<text x="402.4" y="470.0" font-size="7.40" font-weight="bold" fill="#000" text-anchor="middle" stroke="#000" stroke-width="0.25">4</text>
<text x="413.8" y="470.0" font-size="7.40" font-weight="bold" fill="#000" text-anchor="middle" stroke="#000" stroke-width="0.25">5</text>
<text x="425.2" y="470.0" font-size="7.40" font-weight="bold" fill="#000" text-anchor="middle" stroke="#000" stroke-width="0.25">6</text>
<text x="436.6" y="470.0" font-size="7.40" font-weight="bold" fill="#000" text-anchor="middle" stroke="#000" stroke-width="0.25">7</text>
<text x="391.8" y="387.6" font-size="10.00" font-weight="bold" fill="#000" text-anchor="start" textLength="16.4" lengthAdjust="spacingAndGlyphs" stroke="#000" stroke-width="0.25">2B4</text>
<line x1="454.0" y1="442.9" x2="454.0" y2="454.5" stroke="#bbb" stroke-width="0.6"/>
<line x1="465.4" y1="442.9" x2="465.4" y2="454.5" stroke="#bbb" stroke-width="0.6"/>
<line x1="476.8" y1="442.9" x2="476.8" y2="454.5" stroke="#bbb" stroke-width="0.6"/>
<line x1="488.2" y1="442.9" x2="488.2" y2="454.5" stroke="#bbb" stroke-width="0.6"/>
<line x1="499.6" y1="442.9" x2="499.6" y2="454.5" stroke="#bbb" stroke-width="0.6"/>
<rect x="442.6" y="445.4" width="0.6" height="7.8" fill="#cdcdcd" stroke="#4a4a4a" stroke-width="1.2"/>
<rect x="442.6" y="442.9" width="68.4" height="11.6" fill="none" stroke="#333" stroke-width="1.0"/>
<text x="442.6" y="470.0" font-size="7.40" font-weight="bold" fill="#000" text-anchor="middle" stroke="#000" stroke-width="0.25">1</text>
<text x="454.0" y="470.0" font-size="7.40" font-weight="bold" fill="#000" text-anchor="middle" stroke="#000" stroke-width="0.25">2</text>
<text x="465.4" y="470.0" font-size="7.40" font-weight="bold" fill="#000" text-anchor="middle" stroke="#000" stroke-width="0.25">3</text>
<text x="476.8" y="470.0" font-size="7.40" font-weight="bold" fill="#000" text-anchor="middle" stroke="#000" stroke-width="0.25">4</text>
<text x="488.2" y="470.0" font-size="7.40" font-weight="bold" fill="#000" text-anchor="middle" stroke="#000" stroke-width="0.25">5</text>
<text x="499.6" y="470.0" font-size="7.40" font-weight="bold" fill="#000" text-anchor="middle" stroke="#000" stroke-width="0.25">6</text>
<text x="511.0" y="470.0" font-size="7.40" font-weight="bold" fill="#000" text-anchor="middle" stroke="#000" stroke-width="0.25">7</text>
<text x="466.0" y="387.6" font-size="10.00" font-weight="bold" fill="#000" text-anchor="start" textLength="17.4" lengthAdjust="spacingAndGlyphs" stroke="#000" stroke-width="0.25">CD2</text>
<text x="288.0" y="482.0" font-size="9.00" font-weight="bold" fill="#000" text-anchor="middle" textLength="66.0" lengthAdjust="spacingAndGlyphs" stroke="#000" stroke-width="0.25">Ratio FL-1/FL-3</text>
</svg>
</body></html>
